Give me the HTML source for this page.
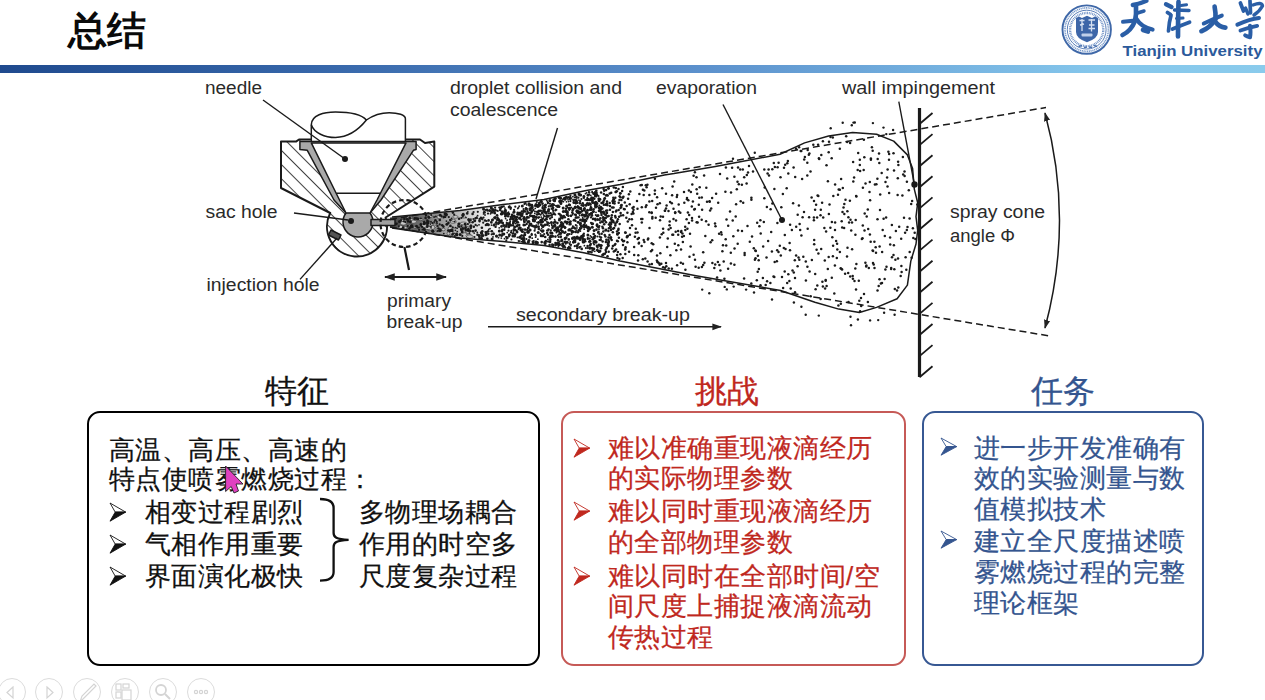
<!DOCTYPE html>
<html><head><meta charset="utf-8">
<style>
html,body{margin:0;padding:0;background:#fff;}
body{width:1265px;height:700px;position:relative;overflow:hidden;font-family:'Liberation Sans', sans-serif;}
.abs{position:absolute;}
.title{left:68px;top:6px;font-size:38.5px;font-weight:bold;color:#0a0a0a;line-height:50px;}
.bar{left:0;top:65px;width:1265px;height:7.5px;background:linear-gradient(90deg,#1f4a8e 0%,#3565a8 24%,#5b90cc 55%,#85c7ec 87%,#8acbec 100%);}
.diag{position:absolute;left:0;top:0;}
.head{font-size:32px;line-height:36px;-webkit-text-stroke:0.3px currentColor;}
.box{position:absolute;top:411px;height:255px;box-sizing:border-box;border-radius:13px;}
.txt{position:absolute;font-size:26px;line-height:30px;white-space:nowrap;-webkit-text-stroke:0.25px currentColor;letter-spacing:0.45px;}
.tool{position:absolute;top:678px;width:28px;height:28px;border:1.3px solid #dcdcdc;border-radius:50%;box-sizing:border-box;}
</style></head><body>
<div class="abs title">总结</div><div class="abs bar"></div><svg class="abs" style="left:1060px;top:3px" width="54" height="54" viewBox="0 0 54 54">
<circle cx="26.7" cy="26.6" r="24.2" fill="none" stroke="#3f68a8" stroke-width="1.9"/>
<circle cx="26.7" cy="26.6" r="21.7" fill="none" stroke="#7a9bcb" stroke-width="1.7" stroke-dasharray="1.1 0.7"/>
<circle cx="26.7" cy="26.6" r="19.4" fill="none" stroke="#4a72b0" stroke-width="0.9"/>
<circle cx="26.7" cy="26.6" r="16.6" fill="none" stroke="#6f91c6" stroke-width="2.4" stroke-dasharray="0.9 0.8"/>
<path d="M16,15 L19,13.5 L22,15 L27,12.8 L32,15 L35,13.5 L38,15 L38,29 Q38,35.5 27,39.2 Q16,35.5 16,29 Z" fill="#3d66a8"/>
<path d="M19.5,17.5 L24.5,17.5 M22,16 L22,28 M20,22 L24,21 M28.5,17 L35,17 M31.5,16 L31.5,28.5 M29,22 L34.5,22 M28.5,25.5 L35,25.5" stroke="#d5e0f0" stroke-width="1.3"/>
<rect x="21.5" y="30.5" width="11" height="3" rx="1" fill="#c0d0ea"/>
<path d="M18.5,43.5 L22,42.5 M24,44.5 L27,44 M29,44 L32,44.5 M34,42.5 L37,43.5" stroke="#4a72b0" stroke-width="1.4"/>
</svg><svg class="abs" style="left:1115px;top:0" width="150" height="42" viewBox="1115 0 150 42" fill="none" stroke="#2a5ea6" stroke-linecap="round" stroke-linejoin="round">
<path d="M1132.8,5 Q1140,3.8 1146.4,0.8" stroke-width="4.34"/>
<path d="M1137.5,13 L1144,11" stroke-width="3.41"/>
<path d="M1123,21.8 Q1128,21.5 1133,20.8" stroke-width="4.03"/>
<path d="M1136,5.5 Q1136.5,14 1135,21 Q1131,31 1122.5,35" stroke-width="4.65"/>
<path d="M1136.5,19 Q1141,27 1152.5,29.5" stroke-width="4.34"/>
<path d="M1143,30 L1148,31.5" stroke-width="4.65"/>
<path d="M1166,4.3 L1171.5,7" stroke-width="4.34"/>
<path d="M1167.5,12.5 L1170.5,14.5" stroke-width="3.88"/>
<path d="M1168.5,31 Q1169,22 1171,15.5" stroke-width="3.72"/>
<path d="M1178.5,2 Q1178,20 1178,36.5" stroke-width="4.65"/>
<path d="M1174.5,10 L1189,10.5" stroke-width="3.41"/>
<path d="M1181,5.5 L1186.5,4.8" stroke-width="3.10"/>
<path d="M1176.5,18.5 L1183,18" stroke-width="3.10"/>
<path d="M1172.5,29 Q1182,25 1189.5,22.2" stroke-width="3.88"/>
<path d="M1214.6,6.6 Q1216,14 1215.5,19 Q1210,28 1201.4,31.2" stroke-width="4.65"/>
<path d="M1203.8,23.5 Q1213,19 1221.8,15.6" stroke-width="4.03"/>
<path d="M1215.2,21.6 Q1219,27 1225.4,27.6" stroke-width="4.65"/>
<path d="M1240.4,3 L1243.5,11" stroke-width="3.72"/>
<path d="M1245.5,8 L1248,14" stroke-width="3.41"/>
<path d="M1250,1 L1250.5,13" stroke-width="3.72"/>
<path d="M1253,5 Q1262,1.5 1262.5,6 Q1259,12 1254,15" stroke-width="3.41"/>
<path d="M1237.4,24.6 Q1250,19 1259,18" stroke-width="4.03"/>
<path d="M1240.4,30.6 Q1250,27 1257.2,25.8" stroke-width="3.72"/>
<path d="M1250,25.8 Q1251,33 1250,37.2 Q1247,36.5 1245.2,35.4" stroke-width="4.03"/>
</svg><svg class="abs" style="left:1120px;top:40px" width="145" height="22"><text x="2.5" y="15.8" font-family="Liberation Sans, sans-serif" font-weight="bold" font-size="15.5" fill="#2b5a9b" textLength="140" lengthAdjust="spacingAndGlyphs">Tianjin University</text></svg>
<svg class="diag" width="1265" height="400" viewBox="0 0 1265 400">
<defs>
<pattern id="hatch" patternUnits="userSpaceOnUse" width="10" height="10" patternTransform="translate(3,0) rotate(-45)">
<rect width="10" height="10" fill="#fff"/>
<line x1="0" y1="0" x2="0" y2="10" stroke="#222" stroke-width="1.7"/>
</pattern>
<linearGradient id="jet" x1="392" y1="0" x2="600" y2="0" gradientUnits="userSpaceOnUse">
<stop offset="0" stop-color="#4a4a4a"/><stop offset="0.15" stop-color="#707070"/><stop offset="0.35" stop-color="#a0a0a0" stop-opacity="0.6"/><stop offset="0.6" stop-color="#fff" stop-opacity="0"/>
</linearGradient>
<marker id="ah" viewBox="0 0 10 10" refX="9" refY="5" markerWidth="6" markerHeight="6" orient="auto-start-reverse">
<path d="M0,1.5 L10,5 L0,8.5 z" fill="#222"/>
</marker>
</defs>
<g fill="#2a2a2a" font-family="Liberation Sans, sans-serif" font-size="17.5" transform="translate(0,0.8)">
<text x="205" y="93" textLength="57" lengthAdjust="spacingAndGlyphs">needle</text>
<text x="450" y="93" textLength="172" lengthAdjust="spacingAndGlyphs">droplet collision and</text>
<text x="450" y="115" textLength="108" lengthAdjust="spacingAndGlyphs">coalescence</text>
<text x="656" y="93" textLength="101" lengthAdjust="spacingAndGlyphs">evaporation</text>
<text x="842" y="93" textLength="153" lengthAdjust="spacingAndGlyphs">wall impingement</text>
<text x="205.5" y="217" textLength="72" lengthAdjust="spacingAndGlyphs">sac hole</text>
<text x="206.5" y="290" textLength="113" lengthAdjust="spacingAndGlyphs">injection hole</text>
<text x="387" y="306" textLength="64" lengthAdjust="spacingAndGlyphs">primary</text>
<text x="386.5" y="327" textLength="76" lengthAdjust="spacingAndGlyphs">break-up</text>
<text x="516" y="320" textLength="174" lengthAdjust="spacingAndGlyphs">secondary break-up</text>
<text x="950" y="217" textLength="95" lengthAdjust="spacingAndGlyphs">spray cone</text>
<text x="950" y="241" textLength="65" lengthAdjust="spacingAndGlyphs">angle &#934;</text>
</g>
<g stroke="#1a1a1a" fill="none" stroke-width="1.5" stroke-linejoin="round">
<!-- jet fill -->
<path d="M390,217.5 L460,210.5 L503,204.5 L544,199.5 L585,190.8 L600,188.3 L600,256.8 L585,253 L544,245.5 L503,241.5 L460,237.9 L390,227.5 Z" fill="url(#jet)" stroke="none"/>
<ellipse cx="430.6" cy="224.4" rx="3.3" ry="1.5" fill="#c8c8c8" stroke="#333" stroke-width="0.6"/><ellipse cx="434.6" cy="225.1" rx="1.9" ry="1.5" fill="#c8c8c8" stroke="#333" stroke-width="0.6"/><ellipse cx="443.4" cy="229.5" rx="1.7" ry="1.3" fill="#c8c8c8" stroke="#333" stroke-width="0.6"/><ellipse cx="404.5" cy="225.9" rx="2.9" ry="1.0" fill="#c8c8c8" stroke="#333" stroke-width="0.6"/><ellipse cx="468.7" cy="235.7" rx="2.8" ry="1.6" fill="#c8c8c8" stroke="#333" stroke-width="0.6"/><ellipse cx="409.3" cy="217.5" rx="2.6" ry="1.1" fill="#c8c8c8" stroke="#333" stroke-width="0.6"/><ellipse cx="411.7" cy="220.0" rx="1.6" ry="1.5" fill="#c8c8c8" stroke="#333" stroke-width="0.6"/><ellipse cx="429.7" cy="229.0" rx="2.5" ry="1.6" fill="#c8c8c8" stroke="#333" stroke-width="0.6"/><ellipse cx="434.0" cy="226.3" rx="2.4" ry="1.3" fill="#c8c8c8" stroke="#333" stroke-width="0.6"/><ellipse cx="469.8" cy="236.6" rx="3.2" ry="1.7" fill="#c8c8c8" stroke="#333" stroke-width="0.6"/><ellipse cx="420.7" cy="219.5" rx="2.1" ry="1.1" fill="#c8c8c8" stroke="#333" stroke-width="0.6"/><ellipse cx="453.2" cy="221.9" rx="3.2" ry="1.4" fill="#c8c8c8" stroke="#333" stroke-width="0.6"/><ellipse cx="467.0" cy="232.7" rx="1.5" ry="1.2" fill="#c8c8c8" stroke="#333" stroke-width="0.6"/><ellipse cx="463.5" cy="223.4" rx="3.5" ry="1.4" fill="#c8c8c8" stroke="#333" stroke-width="0.6"/><ellipse cx="403.3" cy="224.0" rx="3.1" ry="1.3" fill="#c8c8c8" stroke="#333" stroke-width="0.6"/><ellipse cx="404.3" cy="221.1" rx="3.4" ry="1.8" fill="#c8c8c8" stroke="#333" stroke-width="0.6"/><ellipse cx="406.5" cy="220.2" rx="1.7" ry="1.1" fill="#c8c8c8" stroke="#333" stroke-width="0.6"/><ellipse cx="455.4" cy="216.9" rx="2.6" ry="1.4" fill="#c8c8c8" stroke="#333" stroke-width="0.6"/><ellipse cx="411.7" cy="225.7" rx="1.8" ry="1.6" fill="#c8c8c8" stroke="#333" stroke-width="0.6"/><ellipse cx="406.4" cy="222.0" rx="1.9" ry="1.3" fill="#c8c8c8" stroke="#333" stroke-width="0.6"/><ellipse cx="467.9" cy="231.6" rx="2.1" ry="1.9" fill="#c8c8c8" stroke="#333" stroke-width="0.6"/><ellipse cx="413.2" cy="221.7" rx="3.2" ry="1.6" fill="#c8c8c8" stroke="#333" stroke-width="0.6"/><ellipse cx="405.2" cy="227.8" rx="1.9" ry="1.3" fill="#c8c8c8" stroke="#333" stroke-width="0.6"/><ellipse cx="453.6" cy="220.3" rx="2.1" ry="1.1" fill="#c8c8c8" stroke="#333" stroke-width="0.6"/><ellipse cx="404.5" cy="223.6" rx="2.0" ry="1.6" fill="#c8c8c8" stroke="#333" stroke-width="0.6"/><ellipse cx="424.8" cy="222.6" rx="3.4" ry="1.5" fill="#c8c8c8" stroke="#333" stroke-width="0.6"/><ellipse cx="439.4" cy="230.4" rx="1.9" ry="1.2" fill="#c8c8c8" stroke="#333" stroke-width="0.6"/><ellipse cx="463.4" cy="231.8" rx="2.0" ry="1.2" fill="#c8c8c8" stroke="#333" stroke-width="0.6"/><ellipse cx="451.2" cy="233.4" rx="1.9" ry="2.0" fill="#c8c8c8" stroke="#333" stroke-width="0.6"/><ellipse cx="461.5" cy="226.6" rx="2.3" ry="1.1" fill="#c8c8c8" stroke="#333" stroke-width="0.6"/><ellipse cx="400.8" cy="226.9" rx="2.0" ry="1.7" fill="#c8c8c8" stroke="#333" stroke-width="0.6"/><ellipse cx="416.5" cy="227.3" rx="2.7" ry="1.3" fill="#c8c8c8" stroke="#333" stroke-width="0.6"/><ellipse cx="410.6" cy="225.5" rx="1.6" ry="1.2" fill="#c8c8c8" stroke="#333" stroke-width="0.6"/><ellipse cx="438.3" cy="230.1" rx="2.7" ry="1.3" fill="#c8c8c8" stroke="#333" stroke-width="0.6"/><ellipse cx="464.0" cy="216.9" rx="1.5" ry="1.3" fill="#c8c8c8" stroke="#333" stroke-width="0.6"/><ellipse cx="430.1" cy="216.3" rx="1.9" ry="1.4" fill="#c8c8c8" stroke="#333" stroke-width="0.6"/><ellipse cx="439.2" cy="216.9" rx="2.2" ry="1.9" fill="#c8c8c8" stroke="#333" stroke-width="0.6"/><ellipse cx="468.6" cy="227.9" rx="2.9" ry="1.6" fill="#c8c8c8" stroke="#333" stroke-width="0.6"/><ellipse cx="408.1" cy="217.8" rx="1.5" ry="1.9" fill="#c8c8c8" stroke="#333" stroke-width="0.6"/><ellipse cx="448.5" cy="233.5" rx="1.5" ry="1.6" fill="#c8c8c8" stroke="#333" stroke-width="0.6"/><ellipse cx="432.7" cy="227.4" rx="2.1" ry="2.0" fill="#c8c8c8" stroke="#333" stroke-width="0.6"/><ellipse cx="403.4" cy="223.2" rx="3.0" ry="1.9" fill="#c8c8c8" stroke="#333" stroke-width="0.6"/><ellipse cx="451.1" cy="228.3" rx="3.1" ry="1.9" fill="#c8c8c8" stroke="#333" stroke-width="0.6"/><ellipse cx="423.3" cy="226.0" rx="3.3" ry="1.9" fill="#c8c8c8" stroke="#333" stroke-width="0.6"/><ellipse cx="428.0" cy="228.0" rx="3.2" ry="1.6" fill="#c8c8c8" stroke="#333" stroke-width="0.6"/>
<!-- nozzle body hatched -->
<path d="M281,141.6 L296,141.6 L299,139.5 L420,139.5 L425,143 L434.3,141.6 L434.3,186.6 L385.6,217.5 A30,30 0 1 1 330.2,213 L281,188 Z" fill="url(#hatch)" stroke-width="2"/>
<!-- needle cap -->
<path d="M311.3,142.9 L311.3,124.8 C311.3,115 324,112 335.5,112 C350,112 362,115 366.4,120 C375,114 383,112.7 389.2,112.7 C398,112.7 405.4,115 405.4,118.7 L405.4,142.9 Z" fill="#fff"/>
<path d="M311.3,124.8 C314,133 325,137.5 335.5,137.5 C350,137 360,128 366.4,120"/>
<!-- gray fuel channel + sac -->
<path d="M299.9,141.6 L416.1,141.6 L416.1,149.6 L413.4,150.3 L381,200 L370,213 A15,15 0 1 1 346,213 L334,200 L307.3,150.3 L299.9,149.6 Z" fill="#a9a9a9"/>
<!-- needle cone -->
<path d="M311.3,142.9 L406,142.9 L377,200 L370,213 L346,213 L339.5,200 Z" fill="#fff"/>
<line x1="336.3" y1="193.3" x2="380.4" y2="193.3"/>
<!-- injection holes -->
<path d="M371,219.5 L395,219.5 L395,225.5 L371,225.5 Z" fill="#a0a0a0"/>
<path d="M331,230 L341,235 L338.5,240 L328.5,235 Z" fill="#555"/>
<!-- dashed circle -->
<circle cx="404" cy="223.5" r="23.5" stroke-dasharray="4.5 3" stroke-width="2.2"/>
<line x1="404.4" y1="247" x2="409" y2="270" stroke-width="2.2"/>
<line x1="385" y1="277" x2="446" y2="277" stroke-width="1.8" marker-start="url(#ah)" marker-end="url(#ah)"/>
<line x1="488" y1="326.8" x2="721" y2="326.8" stroke-width="1.6" marker-end="url(#ah)"/>
<!-- pointers -->
<line x1="263" y1="100" x2="345" y2="159" stroke-width="1.4"/>
<line x1="294" y1="213" x2="348" y2="220" stroke-width="1.4"/>
<line x1="300" y1="279.4" x2="337" y2="238" stroke-width="1.4"/>
<line x1="557.5" y1="128" x2="536" y2="199" stroke-width="1.4"/>
<line x1="723" y1="104.5" x2="782" y2="220" stroke-width="1.4"/>
<line x1="898.8" y1="101.7" x2="914.3" y2="184" stroke-width="1.4"/>
<!-- dashed cone -->
<line x1="390" y1="219.5" x2="1046" y2="107.5" stroke-dasharray="7 4" stroke-width="1.5"/>
<line x1="390" y1="227" x2="1050" y2="336" stroke-dasharray="7 4" stroke-width="1.5"/>
<!-- spray outline -->
<path d="M392,217 L460,210.5 L503,204.5 L544,199.5 L585,190.8 L620,184.5 L664.4,174.9 L674,173.5 L715.4,166.4 L780,154.3 L804.6,142.9 L828.6,136 L852.6,132.6 L876.6,134.3 L893.7,141.1 L907.4,154.9 L912.6,168.6 L914.3,189.1 L917.7,202.8 L916,216.6 L917.7,230.3 L916,244 L910.8,261.1 L907.4,285.1 L897.1,298.8 L876.6,307.4 L859.4,312.5 L838.8,309.1 L814.9,302.3 L780.6,290.5 L696,275.7 L620,261 L585,253 L544,245.5 L503,241.5 L460,237.9 L392,228" stroke-width="1.5"/>
<!-- wall -->
<line x1="919.5" y1="108" x2="919.5" y2="377" stroke-width="3.2"/>
<path d="M919.5,124.0 L932.5,113.0 M919.5,145.1 L932.5,134.1 M919.5,166.2 L932.5,155.2 M919.5,187.3 L932.5,176.3 M919.5,208.4 L932.5,197.4 M919.5,229.5 L932.5,218.5 M919.5,250.6 L932.5,239.6 M919.5,271.7 L932.5,260.7 M919.5,292.8 L932.5,281.8 M919.5,313.9 L932.5,302.9 M919.5,335.0 L932.5,324.0 M919.5,356.1 L932.5,345.1 M919.5,377.2 L932.5,366.2 " stroke-width="1.8"/>
<!-- cone angle arc -->
<path d="M1045,113 Q1074,220 1045,328" stroke-width="1.5" marker-start="url(#ah)" marker-end="url(#ah)"/>
</g>
<g fill="#1a1a1a">
<circle cx="345" cy="159" r="3"/>
<circle cx="351" cy="221" r="3"/>
<circle cx="782" cy="220" r="3"/>
<circle cx="914.5" cy="184.5" r="3.2"/>
<circle cx="396.8" cy="223.4" r="0.9"/><circle cx="396.2" cy="224.0" r="1.3"/><circle cx="399.5" cy="221.5" r="1.5"/><circle cx="398.9" cy="226.2" r="0.9"/><circle cx="401.0" cy="220.7" r="0.9"/><circle cx="401.0" cy="219.8" r="0.9"/><circle cx="403.2" cy="227.5" r="1.3"/><circle cx="403.8" cy="221.3" r="1.1"/><circle cx="404.4" cy="218.9" r="1.3"/><circle cx="405.3" cy="222.1" r="1.1"/><circle cx="407.3" cy="219.2" r="1.5"/><circle cx="407.6" cy="226.0" r="1.1"/><circle cx="407.8" cy="221.5" r="1.3"/><circle cx="408.3" cy="221.0" r="0.9"/><circle cx="409.4" cy="228.6" r="1.3"/><circle cx="409.6" cy="218.0" r="1.5"/><circle cx="410.4" cy="221.8" r="1.5"/><circle cx="411.3" cy="225.8" r="1.5"/><circle cx="410.6" cy="227.3" r="1.3"/><circle cx="412.1" cy="225.9" r="1.3"/><circle cx="412.6" cy="227.0" r="0.9"/><circle cx="414.8" cy="218.7" r="1.3"/><circle cx="414.5" cy="218.0" r="0.9"/><circle cx="416.0" cy="217.6" r="0.9"/><circle cx="417.3" cy="227.6" r="0.9"/><circle cx="417.4" cy="218.7" r="1.5"/><circle cx="416.5" cy="226.3" r="1.5"/><circle cx="418.1" cy="219.0" r="1.3"/><circle cx="419.1" cy="229.9" r="1.1"/><circle cx="418.8" cy="227.6" r="1.1"/><circle cx="421.9" cy="226.7" r="1.1"/><circle cx="420.9" cy="218.5" r="0.9"/><circle cx="420.8" cy="224.3" r="1.3"/><circle cx="420.9" cy="225.6" r="1.1"/><circle cx="423.7" cy="228.1" r="0.9"/><circle cx="422.4" cy="229.7" r="0.9"/><circle cx="424.0" cy="223.9" r="1.3"/><circle cx="422.5" cy="226.8" r="0.9"/><circle cx="424.2" cy="222.3" r="1.5"/><circle cx="425.5" cy="223.1" r="0.9"/><circle cx="424.4" cy="229.4" r="1.5"/><circle cx="425.6" cy="217.9" r="1.3"/><circle cx="427.8" cy="222.9" r="1.5"/><circle cx="427.9" cy="223.2" r="0.9"/><circle cx="427.5" cy="222.3" r="1.3"/><circle cx="429.1" cy="217.5" r="1.3"/><circle cx="428.6" cy="221.3" r="1.1"/><circle cx="428.6" cy="217.1" r="1.3"/><circle cx="430.4" cy="224.1" r="0.9"/><circle cx="431.2" cy="215.0" r="0.9"/><circle cx="431.0" cy="221.7" r="0.9"/><circle cx="431.0" cy="226.9" r="0.9"/><circle cx="432.9" cy="231.3" r="1.5"/><circle cx="432.5" cy="223.0" r="1.1"/><circle cx="432.7" cy="230.9" r="1.5"/><circle cx="434.2" cy="222.0" r="0.9"/><circle cx="435.9" cy="216.5" r="0.9"/><circle cx="434.1" cy="217.0" r="0.9"/><circle cx="435.4" cy="220.2" r="1.3"/><circle cx="437.0" cy="223.6" r="0.9"/><circle cx="437.7" cy="226.0" r="1.1"/><circle cx="437.4" cy="231.0" r="0.9"/><circle cx="436.8" cy="221.9" r="1.1"/><circle cx="439.7" cy="224.4" r="1.1"/><circle cx="439.1" cy="230.7" r="1.1"/><circle cx="438.5" cy="228.5" r="1.3"/><circle cx="439.8" cy="220.0" r="1.3"/><circle cx="440.4" cy="229.4" r="1.1"/><circle cx="441.8" cy="216.3" r="1.1"/><circle cx="440.3" cy="215.3" r="1.5"/><circle cx="440.2" cy="230.5" r="1.5"/><circle cx="443.4" cy="217.5" r="0.9"/><circle cx="442.2" cy="225.2" r="1.3"/><circle cx="443.8" cy="233.6" r="0.9"/><circle cx="443.4" cy="226.6" r="1.3"/><circle cx="445.4" cy="217.2" r="0.9"/><circle cx="445.0" cy="213.7" r="1.5"/><circle cx="444.3" cy="217.1" r="1.1"/><circle cx="444.3" cy="216.5" r="1.3"/><circle cx="446.2" cy="214.3" r="1.5"/><circle cx="446.2" cy="215.1" r="1.5"/><circle cx="446.9" cy="224.2" r="1.5"/><circle cx="446.4" cy="221.1" r="0.9"/><circle cx="448.4" cy="222.9" r="1.3"/><circle cx="448.8" cy="217.1" r="1.1"/><circle cx="448.2" cy="230.5" r="1.3"/><circle cx="449.8" cy="230.7" r="1.5"/><circle cx="450.4" cy="225.9" r="1.3"/><circle cx="451.6" cy="218.5" r="0.9"/><circle cx="451.5" cy="230.3" r="1.5"/><circle cx="450.3" cy="220.1" r="1.3"/><circle cx="451.5" cy="230.0" r="1.5"/><circle cx="452.4" cy="231.0" r="1.3"/><circle cx="452.9" cy="212.6" r="1.3"/><circle cx="454.0" cy="233.4" r="0.9"/><circle cx="452.5" cy="234.4" r="1.3"/><circle cx="452.7" cy="227.7" r="1.1"/><circle cx="454.8" cy="236.0" r="1.1"/><circle cx="455.4" cy="230.3" r="0.9"/><circle cx="454.2" cy="214.7" r="1.1"/><circle cx="454.5" cy="221.7" r="0.9"/><circle cx="455.5" cy="227.6" r="0.9"/><circle cx="456.5" cy="234.0" r="1.5"/><circle cx="457.9" cy="225.8" r="0.9"/><circle cx="457.3" cy="231.6" r="0.9"/><circle cx="457.1" cy="228.2" r="0.9"/><circle cx="456.8" cy="234.8" r="1.5"/><circle cx="458.3" cy="224.1" r="0.9"/><circle cx="458.9" cy="224.0" r="1.3"/><circle cx="459.1" cy="226.6" r="1.3"/><circle cx="459.1" cy="223.8" r="1.3"/><circle cx="459.1" cy="218.8" r="1.3"/><circle cx="461.5" cy="226.3" r="1.1"/><circle cx="460.8" cy="228.8" r="0.9"/><circle cx="461.8" cy="230.4" r="0.9"/><circle cx="461.2" cy="229.8" r="1.3"/><circle cx="460.1" cy="234.4" r="1.5"/><circle cx="461.4" cy="217.9" r="1.1"/><circle cx="462.2" cy="232.1" r="1.5"/><circle cx="462.3" cy="235.9" r="1.1"/><circle cx="463.2" cy="214.2" r="1.5"/><circle cx="462.9" cy="216.5" r="0.9"/><circle cx="462.7" cy="215.3" r="1.3"/><circle cx="462.9" cy="228.4" r="1.5"/><circle cx="465.3" cy="228.8" r="1.3"/><circle cx="465.6" cy="224.9" r="1.1"/><circle cx="465.9" cy="230.2" r="1.1"/><circle cx="465.0" cy="224.1" r="1.3"/><circle cx="465.6" cy="227.3" r="1.3"/><circle cx="467.2" cy="230.0" r="1.1"/><circle cx="467.3" cy="230.7" r="1.1"/><circle cx="467.9" cy="224.1" r="1.1"/><circle cx="467.8" cy="211.8" r="0.9"/><circle cx="466.0" cy="217.6" r="0.9"/><circle cx="467.2" cy="213.4" r="1.3"/><circle cx="468.2" cy="228.7" r="1.1"/><circle cx="469.3" cy="220.5" r="1.5"/><circle cx="468.7" cy="219.6" r="1.5"/><circle cx="469.5" cy="233.1" r="0.9"/><circle cx="469.6" cy="222.5" r="1.1"/><circle cx="468.9" cy="230.6" r="1.5"/><circle cx="470.7" cy="228.1" r="1.3"/><circle cx="470.6" cy="231.0" r="1.1"/><circle cx="470.9" cy="220.3" r="0.9"/><circle cx="470.9" cy="219.1" r="0.9"/><circle cx="470.9" cy="225.8" r="1.5"/><circle cx="473.6" cy="212.0" r="1.1"/><circle cx="473.8" cy="226.7" r="1.3"/><circle cx="473.0" cy="231.2" r="1.3"/><circle cx="472.6" cy="213.9" r="1.3"/><circle cx="473.3" cy="219.0" r="0.9"/><circle cx="472.6" cy="222.2" r="1.3"/><circle cx="475.6" cy="218.2" r="1.3"/><circle cx="474.4" cy="237.0" r="1.1"/><circle cx="474.2" cy="233.1" r="0.9"/><circle cx="474.7" cy="220.8" r="1.5"/><circle cx="475.6" cy="230.6" r="1.3"/><circle cx="475.6" cy="224.9" r="1.1"/><circle cx="477.5" cy="234.7" r="1.3"/><circle cx="477.6" cy="215.7" r="0.9"/><circle cx="477.1" cy="225.7" r="0.9"/><circle cx="477.3" cy="232.5" r="0.9"/><circle cx="477.2" cy="218.1" r="0.9"/><circle cx="476.7" cy="217.2" r="0.9"/><circle cx="477.8" cy="211.8" r="1.1"/><circle cx="479.6" cy="221.4" r="1.1"/><circle cx="479.0" cy="235.6" r="1.3"/><circle cx="479.5" cy="220.6" r="1.3"/><circle cx="479.6" cy="218.8" r="1.1"/><circle cx="479.0" cy="224.8" r="0.9"/><circle cx="479.4" cy="235.8" r="1.5"/><circle cx="479.5" cy="237.9" r="1.3"/><circle cx="481.6" cy="233.5" r="1.5"/><circle cx="481.9" cy="227.8" r="1.3"/><circle cx="481.4" cy="232.6" r="1.5"/><circle cx="481.8" cy="236.0" r="1.1"/><circle cx="481.5" cy="238.2" r="1.5"/><circle cx="481.4" cy="218.3" r="1.5"/><circle cx="480.8" cy="217.4" r="0.9"/><circle cx="483.5" cy="217.6" r="1.1"/><circle cx="483.6" cy="213.9" r="0.9"/><circle cx="483.5" cy="209.0" r="1.5"/><circle cx="483.8" cy="209.6" r="0.9"/><circle cx="482.4" cy="219.3" r="1.1"/><circle cx="483.2" cy="222.7" r="1.1"/><circle cx="482.9" cy="235.4" r="1.5"/><circle cx="482.3" cy="231.3" r="1.3"/><circle cx="485.9" cy="225.0" r="1.3"/><circle cx="485.0" cy="220.5" r="1.3"/><circle cx="485.3" cy="231.8" r="0.9"/><circle cx="485.0" cy="215.0" r="0.9"/><circle cx="484.4" cy="212.3" r="1.5"/><circle cx="486.0" cy="232.5" r="1.3"/><circle cx="485.6" cy="210.0" r="1.1"/><circle cx="485.8" cy="234.9" r="1.3"/><circle cx="486.5" cy="221.0" r="1.1"/><circle cx="486.8" cy="231.9" r="1.1"/><circle cx="486.5" cy="234.9" r="1.1"/><circle cx="487.3" cy="238.7" r="1.3"/><circle cx="487.0" cy="209.6" r="1.1"/><circle cx="486.0" cy="233.4" r="1.1"/><circle cx="487.6" cy="210.5" r="1.3"/><circle cx="487.2" cy="224.3" r="1.5"/><circle cx="488.2" cy="231.2" r="1.3"/><circle cx="488.0" cy="213.6" r="1.1"/><circle cx="489.8" cy="210.5" r="1.5"/><circle cx="488.4" cy="224.8" r="1.5"/><circle cx="488.3" cy="233.8" r="1.3"/><circle cx="488.6" cy="220.4" r="1.3"/><circle cx="490.0" cy="228.7" r="0.9"/><circle cx="488.7" cy="229.3" r="0.9"/><circle cx="491.4" cy="231.2" r="0.9"/><circle cx="491.3" cy="207.8" r="1.5"/><circle cx="491.4" cy="222.5" r="1.3"/><circle cx="491.1" cy="222.0" r="0.9"/><circle cx="491.7" cy="234.3" r="1.1"/><circle cx="491.8" cy="212.2" r="1.5"/><circle cx="491.9" cy="231.3" r="1.3"/><circle cx="491.5" cy="225.1" r="0.9"/><circle cx="490.5" cy="213.8" r="0.9"/><circle cx="493.9" cy="225.3" r="1.3"/><circle cx="492.9" cy="219.5" r="0.9"/><circle cx="492.3" cy="210.2" r="1.1"/><circle cx="492.4" cy="220.1" r="1.5"/><circle cx="493.2" cy="210.0" r="1.1"/><circle cx="492.1" cy="239.1" r="1.5"/><circle cx="492.8" cy="209.4" r="1.5"/><circle cx="493.9" cy="211.6" r="1.1"/><circle cx="493.5" cy="233.7" r="1.5"/><circle cx="493.0" cy="236.9" r="0.9"/><circle cx="495.2" cy="217.2" r="1.1"/><circle cx="495.3" cy="226.8" r="0.9"/><circle cx="494.5" cy="213.0" r="1.3"/><circle cx="495.3" cy="210.3" r="1.5"/><circle cx="494.4" cy="217.7" r="1.3"/><circle cx="495.7" cy="226.9" r="1.1"/><circle cx="494.5" cy="224.5" r="1.3"/><circle cx="495.1" cy="218.4" r="1.1"/><circle cx="495.1" cy="213.3" r="1.1"/><circle cx="495.1" cy="207.7" r="1.1"/><circle cx="496.3" cy="222.4" r="1.5"/><circle cx="497.4" cy="217.5" r="1.3"/><circle cx="496.5" cy="235.9" r="1.5"/><circle cx="497.9" cy="211.0" r="0.9"/><circle cx="497.1" cy="215.3" r="1.3"/><circle cx="497.2" cy="210.6" r="0.9"/><circle cx="496.6" cy="236.4" r="1.1"/><circle cx="497.5" cy="218.6" r="1.1"/><circle cx="496.4" cy="224.8" r="0.9"/><circle cx="496.9" cy="220.0" r="1.1"/><circle cx="499.3" cy="231.1" r="1.5"/><circle cx="499.2" cy="227.8" r="0.9"/><circle cx="498.3" cy="220.1" r="0.9"/><circle cx="498.3" cy="219.3" r="1.5"/><circle cx="498.3" cy="223.8" r="1.3"/><circle cx="498.5" cy="237.7" r="0.9"/><circle cx="499.3" cy="207.5" r="1.1"/><circle cx="498.8" cy="223.0" r="0.9"/><circle cx="498.9" cy="220.1" r="1.5"/><circle cx="499.5" cy="222.6" r="1.5"/><circle cx="499.7" cy="235.1" r="1.5"/><circle cx="500.2" cy="209.9" r="1.3"/><circle cx="501.1" cy="220.7" r="0.9"/><circle cx="500.6" cy="207.8" r="1.5"/><circle cx="501.5" cy="226.4" r="1.3"/><circle cx="501.8" cy="235.9" r="1.1"/><circle cx="500.2" cy="221.2" r="1.5"/><circle cx="501.9" cy="222.2" r="0.9"/><circle cx="501.1" cy="214.1" r="1.3"/><circle cx="501.3" cy="238.1" r="0.9"/><circle cx="502.0" cy="230.9" r="1.3"/><circle cx="501.7" cy="220.4" r="1.1"/><circle cx="503.5" cy="225.3" r="0.9"/><circle cx="502.2" cy="233.1" r="0.9"/><circle cx="503.8" cy="225.6" r="1.5"/><circle cx="502.0" cy="214.1" r="1.3"/><circle cx="502.0" cy="211.7" r="1.5"/><circle cx="503.8" cy="233.9" r="1.5"/><circle cx="502.3" cy="229.7" r="1.1"/><circle cx="502.1" cy="206.8" r="1.3"/><circle cx="502.6" cy="222.9" r="1.5"/><circle cx="503.8" cy="212.7" r="0.9"/><circle cx="502.4" cy="234.7" r="1.3"/><circle cx="503.8" cy="206.3" r="1.1"/><circle cx="504.5" cy="238.7" r="0.9"/><circle cx="505.3" cy="216.2" r="1.3"/><circle cx="505.9" cy="215.1" r="1.5"/><circle cx="505.4" cy="210.2" r="1.5"/><circle cx="504.8" cy="211.4" r="1.3"/><circle cx="504.2" cy="229.7" r="1.3"/><circle cx="504.4" cy="213.7" r="1.3"/><circle cx="505.6" cy="218.5" r="0.9"/><circle cx="505.2" cy="213.5" r="1.3"/><circle cx="505.8" cy="211.8" r="1.1"/><circle cx="504.6" cy="227.9" r="0.9"/><circle cx="504.9" cy="208.1" r="0.9"/><circle cx="506.1" cy="226.5" r="1.3"/><circle cx="507.1" cy="220.2" r="0.9"/><circle cx="506.3" cy="240.3" r="1.1"/><circle cx="506.5" cy="215.1" r="0.9"/><circle cx="506.4" cy="237.0" r="0.9"/><circle cx="507.2" cy="237.7" r="1.5"/><circle cx="506.0" cy="236.8" r="0.9"/><circle cx="506.4" cy="224.9" r="1.3"/><circle cx="506.6" cy="222.4" r="0.9"/><circle cx="507.0" cy="223.2" r="1.1"/><circle cx="507.2" cy="232.6" r="0.9"/><circle cx="507.2" cy="213.6" r="1.5"/><circle cx="508.5" cy="230.7" r="1.1"/><circle cx="508.5" cy="224.5" r="1.5"/><circle cx="508.5" cy="212.2" r="0.9"/><circle cx="509.1" cy="236.3" r="1.1"/><circle cx="508.7" cy="226.8" r="1.5"/><circle cx="509.6" cy="223.1" r="1.3"/><circle cx="509.7" cy="206.1" r="0.9"/><circle cx="509.8" cy="225.4" r="1.1"/><circle cx="509.2" cy="206.9" r="1.5"/><circle cx="508.1" cy="216.3" r="1.3"/><circle cx="509.5" cy="222.9" r="1.1"/><circle cx="508.8" cy="213.9" r="1.5"/><circle cx="509.4" cy="234.8" r="1.5"/><circle cx="510.8" cy="218.0" r="1.1"/><circle cx="511.4" cy="239.5" r="1.1"/><circle cx="511.0" cy="232.4" r="1.1"/><circle cx="510.3" cy="221.3" r="0.9"/><circle cx="510.0" cy="219.6" r="1.1"/><circle cx="510.2" cy="224.9" r="1.5"/><circle cx="510.8" cy="207.5" r="0.9"/><circle cx="511.4" cy="230.8" r="1.1"/><circle cx="510.6" cy="209.0" r="1.1"/><circle cx="510.8" cy="207.9" r="1.1"/><circle cx="510.7" cy="217.0" r="1.1"/><circle cx="510.1" cy="219.4" r="0.9"/><circle cx="511.5" cy="225.4" r="1.1"/><circle cx="510.9" cy="219.0" r="1.1"/><circle cx="513.6" cy="212.4" r="1.3"/><circle cx="512.5" cy="233.7" r="1.1"/><circle cx="513.0" cy="219.2" r="1.5"/><circle cx="513.5" cy="221.9" r="1.5"/><circle cx="514.0" cy="229.5" r="1.5"/><circle cx="512.4" cy="218.6" r="0.9"/><circle cx="512.1" cy="214.7" r="1.3"/><circle cx="513.2" cy="223.6" r="1.3"/><circle cx="513.0" cy="225.4" r="1.1"/><circle cx="512.5" cy="217.8" r="1.1"/><circle cx="513.5" cy="233.1" r="1.1"/><circle cx="513.5" cy="231.1" r="0.9"/><circle cx="512.0" cy="216.3" r="1.5"/><circle cx="512.9" cy="235.9" r="1.5"/><circle cx="515.5" cy="223.6" r="0.9"/><circle cx="514.6" cy="226.9" r="1.5"/><circle cx="514.1" cy="209.9" r="1.1"/><circle cx="514.1" cy="215.9" r="1.5"/><circle cx="515.0" cy="230.1" r="1.3"/><circle cx="514.6" cy="221.1" r="1.5"/><circle cx="514.3" cy="211.9" r="1.3"/><circle cx="515.1" cy="221.0" r="1.1"/><circle cx="514.8" cy="236.5" r="1.1"/><circle cx="514.2" cy="218.0" r="1.1"/><circle cx="514.3" cy="235.8" r="1.5"/><circle cx="515.1" cy="234.4" r="1.3"/><circle cx="515.3" cy="206.7" r="1.1"/><circle cx="515.1" cy="217.4" r="0.9"/><circle cx="517.7" cy="212.8" r="1.3"/><circle cx="516.2" cy="220.1" r="1.5"/><circle cx="517.0" cy="222.4" r="1.3"/><circle cx="516.6" cy="230.5" r="1.1"/><circle cx="516.3" cy="219.2" r="1.5"/><circle cx="517.5" cy="217.2" r="1.1"/><circle cx="517.0" cy="232.0" r="1.5"/><circle cx="517.6" cy="222.0" r="1.3"/><circle cx="517.4" cy="224.8" r="0.9"/><circle cx="517.8" cy="208.5" r="0.9"/><circle cx="517.8" cy="214.2" r="1.5"/><circle cx="517.0" cy="226.1" r="1.5"/><circle cx="517.4" cy="237.4" r="0.9"/><circle cx="516.0" cy="217.1" r="1.3"/><circle cx="518.5" cy="229.2" r="1.1"/><circle cx="519.3" cy="218.4" r="1.3"/><circle cx="519.9" cy="217.6" r="1.1"/><circle cx="519.5" cy="227.7" r="1.5"/><circle cx="519.2" cy="206.2" r="0.9"/><circle cx="519.7" cy="237.3" r="1.5"/><circle cx="519.9" cy="218.4" r="1.1"/><circle cx="519.4" cy="214.1" r="1.5"/><circle cx="518.7" cy="241.0" r="1.1"/><circle cx="519.2" cy="214.0" r="1.3"/><circle cx="519.4" cy="212.7" r="0.9"/><circle cx="519.9" cy="241.1" r="0.9"/><circle cx="518.5" cy="222.6" r="0.9"/><circle cx="519.2" cy="225.1" r="1.3"/><circle cx="518.5" cy="207.7" r="0.9"/><circle cx="521.4" cy="230.3" r="1.1"/><circle cx="521.9" cy="235.3" r="1.1"/><circle cx="520.7" cy="230.1" r="1.3"/><circle cx="520.7" cy="214.5" r="1.5"/><circle cx="520.5" cy="213.1" r="1.3"/><circle cx="521.4" cy="238.9" r="1.1"/><circle cx="521.8" cy="241.6" r="0.9"/><circle cx="521.8" cy="215.5" r="1.5"/><circle cx="521.0" cy="229.7" r="0.9"/><circle cx="520.3" cy="236.9" r="1.5"/><circle cx="520.1" cy="213.3" r="1.5"/><circle cx="520.5" cy="228.0" r="1.3"/><circle cx="521.4" cy="216.1" r="1.3"/><circle cx="521.7" cy="211.4" r="1.1"/><circle cx="521.1" cy="219.7" r="1.1"/><circle cx="521.2" cy="235.5" r="1.1"/><circle cx="522.8" cy="229.4" r="1.1"/><circle cx="523.3" cy="241.2" r="1.5"/><circle cx="523.2" cy="240.0" r="1.1"/><circle cx="522.5" cy="213.8" r="1.3"/><circle cx="523.3" cy="218.7" r="1.1"/><circle cx="522.1" cy="231.1" r="0.9"/><circle cx="523.7" cy="210.8" r="1.3"/><circle cx="523.5" cy="242.0" r="0.9"/><circle cx="522.8" cy="238.5" r="1.5"/><circle cx="522.3" cy="205.9" r="1.5"/><circle cx="523.6" cy="236.0" r="1.3"/><circle cx="522.4" cy="231.4" r="1.5"/><circle cx="523.5" cy="241.5" r="1.5"/><circle cx="523.3" cy="211.7" r="1.3"/><circle cx="523.6" cy="209.0" r="1.1"/><circle cx="523.7" cy="224.9" r="1.3"/><circle cx="523.8" cy="220.1" r="1.1"/><circle cx="524.0" cy="225.3" r="1.1"/><circle cx="524.5" cy="218.8" r="1.3"/><circle cx="524.5" cy="222.0" r="1.3"/><circle cx="525.1" cy="225.1" r="1.1"/><circle cx="524.1" cy="238.2" r="1.3"/><circle cx="525.3" cy="203.2" r="1.3"/><circle cx="525.0" cy="242.3" r="1.1"/><circle cx="526.0" cy="219.1" r="0.9"/><circle cx="524.8" cy="234.8" r="1.5"/><circle cx="525.1" cy="211.5" r="1.3"/><circle cx="524.6" cy="240.0" r="1.1"/><circle cx="526.0" cy="220.5" r="0.9"/><circle cx="524.4" cy="204.1" r="1.1"/><circle cx="525.1" cy="229.6" r="1.3"/><circle cx="524.7" cy="232.7" r="1.3"/><circle cx="524.1" cy="221.4" r="1.1"/><circle cx="524.1" cy="217.4" r="1.3"/><circle cx="527.6" cy="232.1" r="1.5"/><circle cx="526.6" cy="224.0" r="0.9"/><circle cx="527.9" cy="222.0" r="1.5"/><circle cx="526.5" cy="239.0" r="0.9"/><circle cx="526.0" cy="208.4" r="1.3"/><circle cx="526.8" cy="217.5" r="1.3"/><circle cx="527.6" cy="217.3" r="1.5"/><circle cx="526.7" cy="213.9" r="1.3"/><circle cx="527.2" cy="213.3" r="1.1"/><circle cx="527.5" cy="211.2" r="1.1"/><circle cx="527.1" cy="229.9" r="1.1"/><circle cx="526.7" cy="209.0" r="1.3"/><circle cx="526.7" cy="219.9" r="0.9"/><circle cx="526.8" cy="204.9" r="0.9"/><circle cx="526.6" cy="224.2" r="1.1"/><circle cx="526.0" cy="209.7" r="0.9"/><circle cx="528.2" cy="242.3" r="1.5"/><circle cx="528.9" cy="240.4" r="1.5"/><circle cx="528.8" cy="231.0" r="1.1"/><circle cx="529.6" cy="205.3" r="1.5"/><circle cx="529.9" cy="215.5" r="1.1"/><circle cx="529.6" cy="223.7" r="0.9"/><circle cx="528.3" cy="228.1" r="1.5"/><circle cx="529.8" cy="204.8" r="1.3"/><circle cx="529.8" cy="237.0" r="1.5"/><circle cx="529.0" cy="225.4" r="0.9"/><circle cx="528.2" cy="232.3" r="1.5"/><circle cx="528.9" cy="221.4" r="1.5"/><circle cx="529.0" cy="217.7" r="0.9"/><circle cx="529.0" cy="203.8" r="1.5"/><circle cx="528.9" cy="226.4" r="0.9"/><circle cx="529.9" cy="208.7" r="1.5"/><circle cx="528.7" cy="212.8" r="1.3"/><circle cx="530.9" cy="224.8" r="0.9"/><circle cx="531.7" cy="207.4" r="1.5"/><circle cx="530.2" cy="209.9" r="1.1"/><circle cx="531.7" cy="234.8" r="1.3"/><circle cx="532.0" cy="204.9" r="0.9"/><circle cx="531.4" cy="212.5" r="1.3"/><circle cx="530.9" cy="224.1" r="1.5"/><circle cx="530.4" cy="213.7" r="1.1"/><circle cx="530.1" cy="224.9" r="1.5"/><circle cx="531.8" cy="205.2" r="1.5"/><circle cx="531.7" cy="233.7" r="0.9"/><circle cx="531.6" cy="208.5" r="1.3"/><circle cx="530.4" cy="215.9" r="1.3"/><circle cx="531.9" cy="211.2" r="1.3"/><circle cx="530.2" cy="209.7" r="1.5"/><circle cx="530.1" cy="230.1" r="1.5"/><circle cx="531.8" cy="205.2" r="1.1"/><circle cx="532.6" cy="241.5" r="1.1"/><circle cx="533.1" cy="243.0" r="1.5"/><circle cx="532.0" cy="216.0" r="1.3"/><circle cx="533.7" cy="241.0" r="1.1"/><circle cx="533.4" cy="209.5" r="1.1"/><circle cx="532.3" cy="226.0" r="0.9"/><circle cx="532.3" cy="206.8" r="1.3"/><circle cx="533.2" cy="216.8" r="1.1"/><circle cx="532.0" cy="204.9" r="1.1"/><circle cx="533.5" cy="216.9" r="1.3"/><circle cx="533.5" cy="210.3" r="0.9"/><circle cx="533.3" cy="219.5" r="1.5"/><circle cx="532.6" cy="207.6" r="0.9"/><circle cx="533.9" cy="216.3" r="1.5"/><circle cx="532.5" cy="225.9" r="1.3"/><circle cx="532.2" cy="238.2" r="0.9"/><circle cx="533.4" cy="220.8" r="1.5"/><circle cx="535.5" cy="226.8" r="1.5"/><circle cx="535.3" cy="217.1" r="1.3"/><circle cx="534.6" cy="220.1" r="1.3"/><circle cx="534.6" cy="230.7" r="1.1"/><circle cx="534.0" cy="217.4" r="1.3"/><circle cx="534.8" cy="213.4" r="0.9"/><circle cx="535.6" cy="237.2" r="0.9"/><circle cx="535.1" cy="205.9" r="1.1"/><circle cx="534.2" cy="216.9" r="1.3"/><circle cx="534.1" cy="226.4" r="1.3"/><circle cx="536.0" cy="235.8" r="0.9"/><circle cx="535.3" cy="208.3" r="0.9"/><circle cx="534.7" cy="221.1" r="1.3"/><circle cx="535.0" cy="228.9" r="0.9"/><circle cx="535.9" cy="242.4" r="1.5"/><circle cx="534.9" cy="211.4" r="0.9"/><circle cx="536.0" cy="204.6" r="1.5"/><circle cx="535.3" cy="234.7" r="1.1"/><circle cx="537.2" cy="222.5" r="1.1"/><circle cx="537.0" cy="205.6" r="0.9"/><circle cx="536.0" cy="241.9" r="1.3"/><circle cx="537.3" cy="242.4" r="1.5"/><circle cx="537.6" cy="206.6" r="1.5"/><circle cx="536.3" cy="217.2" r="1.3"/><circle cx="537.9" cy="239.2" r="0.9"/><circle cx="536.2" cy="218.9" r="0.9"/><circle cx="537.6" cy="205.5" r="0.9"/><circle cx="536.1" cy="211.6" r="0.9"/><circle cx="537.0" cy="214.5" r="1.3"/><circle cx="537.6" cy="211.9" r="1.5"/><circle cx="536.9" cy="243.2" r="1.5"/><circle cx="536.3" cy="205.9" r="1.1"/><circle cx="537.7" cy="205.9" r="1.1"/><circle cx="536.3" cy="225.3" r="1.1"/><circle cx="536.8" cy="227.3" r="0.9"/><circle cx="536.8" cy="202.0" r="1.1"/><circle cx="538.2" cy="232.6" r="1.5"/><circle cx="538.3" cy="223.9" r="0.9"/><circle cx="538.8" cy="222.3" r="0.9"/><circle cx="538.8" cy="214.0" r="1.1"/><circle cx="538.5" cy="206.1" r="1.5"/><circle cx="538.7" cy="222.1" r="1.1"/><circle cx="539.1" cy="222.6" r="0.9"/><circle cx="538.8" cy="214.0" r="1.3"/><circle cx="538.4" cy="204.9" r="1.5"/><circle cx="538.8" cy="228.9" r="1.3"/><circle cx="538.9" cy="203.4" r="0.9"/><circle cx="538.3" cy="217.6" r="1.3"/><circle cx="538.8" cy="210.8" r="0.9"/><circle cx="539.4" cy="202.7" r="1.3"/><circle cx="539.0" cy="211.1" r="1.5"/><circle cx="539.5" cy="217.2" r="0.9"/><circle cx="538.0" cy="226.5" r="1.1"/><circle cx="538.7" cy="226.7" r="1.3"/><circle cx="540.4" cy="233.8" r="0.9"/><circle cx="540.6" cy="222.4" r="1.3"/><circle cx="540.1" cy="205.1" r="1.3"/><circle cx="541.2" cy="235.7" r="1.5"/><circle cx="541.3" cy="217.1" r="0.9"/><circle cx="540.6" cy="230.3" r="0.9"/><circle cx="540.8" cy="210.7" r="1.3"/><circle cx="540.7" cy="214.7" r="1.1"/><circle cx="541.6" cy="228.6" r="0.9"/><circle cx="542.0" cy="222.1" r="1.5"/><circle cx="541.2" cy="224.8" r="1.3"/><circle cx="541.3" cy="202.0" r="1.1"/><circle cx="541.2" cy="201.3" r="1.5"/><circle cx="540.8" cy="230.3" r="0.9"/><circle cx="540.3" cy="204.6" r="1.1"/><circle cx="540.8" cy="220.3" r="1.5"/><circle cx="541.6" cy="220.2" r="0.9"/><circle cx="541.7" cy="242.1" r="1.3"/><circle cx="543.1" cy="205.7" r="0.9"/><circle cx="542.8" cy="230.8" r="0.9"/><circle cx="543.8" cy="210.0" r="1.5"/><circle cx="542.6" cy="206.9" r="0.9"/><circle cx="542.3" cy="212.7" r="1.5"/><circle cx="542.1" cy="219.6" r="1.5"/><circle cx="542.4" cy="231.3" r="1.5"/><circle cx="543.0" cy="230.7" r="1.5"/><circle cx="543.0" cy="221.7" r="1.1"/><circle cx="543.5" cy="214.9" r="0.9"/><circle cx="542.7" cy="207.9" r="1.3"/><circle cx="542.8" cy="235.7" r="1.5"/><circle cx="542.9" cy="226.4" r="1.5"/><circle cx="542.7" cy="226.1" r="1.5"/><circle cx="543.4" cy="218.0" r="0.9"/><circle cx="543.4" cy="211.0" r="1.3"/><circle cx="542.7" cy="218.6" r="0.9"/><circle cx="542.5" cy="203.6" r="1.3"/><circle cx="545.4" cy="219.5" r="0.9"/><circle cx="545.1" cy="243.4" r="1.5"/><circle cx="544.8" cy="205.7" r="1.1"/><circle cx="545.5" cy="205.0" r="1.3"/><circle cx="545.0" cy="207.1" r="1.3"/><circle cx="545.1" cy="224.8" r="1.3"/><circle cx="545.0" cy="220.1" r="1.3"/><circle cx="545.6" cy="204.8" r="1.1"/><circle cx="544.4" cy="209.3" r="1.3"/><circle cx="544.2" cy="234.1" r="1.1"/><circle cx="545.8" cy="241.1" r="1.3"/><circle cx="544.7" cy="242.3" r="1.3"/><circle cx="545.2" cy="237.0" r="1.3"/><circle cx="544.2" cy="216.2" r="1.1"/><circle cx="545.1" cy="211.6" r="1.3"/><circle cx="544.6" cy="225.2" r="1.3"/><circle cx="545.0" cy="212.5" r="1.3"/><circle cx="545.6" cy="242.0" r="1.1"/><circle cx="545.7" cy="207.5" r="1.1"/><circle cx="547.1" cy="232.9" r="1.3"/><circle cx="546.6" cy="219.2" r="1.3"/><circle cx="547.3" cy="224.4" r="1.5"/><circle cx="546.9" cy="216.7" r="1.1"/><circle cx="547.9" cy="222.7" r="1.3"/><circle cx="547.8" cy="203.4" r="0.9"/><circle cx="547.1" cy="241.6" r="0.9"/><circle cx="546.6" cy="200.2" r="0.9"/><circle cx="546.4" cy="216.5" r="1.3"/><circle cx="547.7" cy="202.8" r="0.9"/><circle cx="546.3" cy="218.6" r="1.1"/><circle cx="548.0" cy="230.7" r="0.9"/><circle cx="546.9" cy="230.5" r="0.9"/><circle cx="547.1" cy="215.9" r="1.5"/><circle cx="547.9" cy="239.5" r="0.9"/><circle cx="546.8" cy="221.8" r="0.9"/><circle cx="547.4" cy="201.4" r="0.9"/><circle cx="546.3" cy="213.5" r="1.3"/><circle cx="546.4" cy="212.3" r="1.1"/><circle cx="549.9" cy="241.8" r="1.5"/><circle cx="549.9" cy="200.6" r="1.5"/><circle cx="549.6" cy="245.1" r="1.3"/><circle cx="549.9" cy="203.6" r="1.1"/><circle cx="549.9" cy="201.1" r="0.9"/><circle cx="548.6" cy="213.3" r="0.9"/><circle cx="548.8" cy="206.4" r="1.1"/><circle cx="549.4" cy="223.3" r="0.9"/><circle cx="548.0" cy="202.7" r="1.1"/><circle cx="550.0" cy="237.6" r="1.5"/><circle cx="548.7" cy="209.6" r="1.5"/><circle cx="548.0" cy="234.7" r="1.3"/><circle cx="548.1" cy="216.5" r="1.3"/><circle cx="549.0" cy="215.7" r="1.1"/><circle cx="549.9" cy="218.5" r="1.1"/><circle cx="548.3" cy="211.2" r="1.5"/><circle cx="548.4" cy="241.5" r="1.1"/><circle cx="548.5" cy="229.5" r="1.3"/><circle cx="549.2" cy="225.8" r="0.9"/><circle cx="550.5" cy="213.2" r="1.3"/><circle cx="551.5" cy="208.7" r="0.9"/><circle cx="551.6" cy="224.3" r="0.9"/><circle cx="551.4" cy="222.6" r="1.5"/><circle cx="550.4" cy="218.4" r="1.1"/><circle cx="550.7" cy="215.7" r="0.9"/><circle cx="552.0" cy="217.2" r="1.1"/><circle cx="550.8" cy="230.3" r="1.1"/><circle cx="550.7" cy="235.9" r="1.5"/><circle cx="551.8" cy="225.3" r="0.9"/><circle cx="551.0" cy="237.2" r="0.9"/><circle cx="550.1" cy="200.7" r="0.9"/><circle cx="550.8" cy="206.6" r="0.9"/><circle cx="550.4" cy="239.9" r="1.1"/><circle cx="551.9" cy="215.1" r="1.1"/><circle cx="550.3" cy="232.3" r="0.9"/><circle cx="550.4" cy="205.5" r="1.1"/><circle cx="551.8" cy="232.9" r="1.5"/><circle cx="550.7" cy="232.9" r="1.3"/><circle cx="550.3" cy="239.6" r="1.1"/><circle cx="553.4" cy="204.6" r="1.3"/><circle cx="552.4" cy="204.6" r="1.5"/><circle cx="553.5" cy="223.6" r="0.9"/><circle cx="552.2" cy="209.3" r="0.9"/><circle cx="553.8" cy="244.8" r="1.1"/><circle cx="552.3" cy="214.4" r="0.9"/><circle cx="552.6" cy="236.2" r="1.5"/><circle cx="552.7" cy="245.8" r="1.5"/><circle cx="552.9" cy="207.8" r="1.5"/><circle cx="554.0" cy="199.9" r="1.5"/><circle cx="553.1" cy="212.1" r="0.9"/><circle cx="552.3" cy="233.5" r="1.1"/><circle cx="553.9" cy="199.9" r="1.5"/><circle cx="553.6" cy="222.3" r="0.9"/><circle cx="552.9" cy="207.4" r="0.9"/><circle cx="552.3" cy="244.6" r="1.3"/><circle cx="552.5" cy="228.0" r="1.3"/><circle cx="553.4" cy="210.6" r="1.3"/><circle cx="552.3" cy="205.6" r="1.5"/><circle cx="552.9" cy="226.5" r="1.3"/><circle cx="555.8" cy="209.6" r="1.1"/><circle cx="554.9" cy="225.3" r="1.3"/><circle cx="555.5" cy="243.1" r="1.3"/><circle cx="554.5" cy="226.3" r="1.1"/><circle cx="555.4" cy="214.7" r="0.9"/><circle cx="555.3" cy="198.5" r="1.5"/><circle cx="555.1" cy="222.2" r="1.5"/><circle cx="555.4" cy="230.1" r="1.5"/><circle cx="554.5" cy="225.9" r="1.5"/><circle cx="554.1" cy="213.7" r="1.5"/><circle cx="554.1" cy="205.2" r="0.9"/><circle cx="554.6" cy="219.6" r="0.9"/><circle cx="554.6" cy="200.8" r="1.5"/><circle cx="555.6" cy="210.6" r="0.9"/><circle cx="554.9" cy="225.0" r="0.9"/><circle cx="555.0" cy="221.5" r="1.3"/><circle cx="554.6" cy="230.3" r="1.3"/><circle cx="555.9" cy="229.4" r="1.5"/><circle cx="555.6" cy="245.3" r="1.1"/><circle cx="555.4" cy="236.6" r="1.3"/><circle cx="557.6" cy="206.5" r="1.5"/><circle cx="556.6" cy="209.8" r="0.9"/><circle cx="557.9" cy="230.0" r="1.5"/><circle cx="557.6" cy="227.7" r="1.5"/><circle cx="557.9" cy="229.3" r="0.9"/><circle cx="558.0" cy="205.7" r="1.3"/><circle cx="558.0" cy="240.4" r="1.3"/><circle cx="556.5" cy="227.7" r="1.3"/><circle cx="558.0" cy="228.3" r="1.1"/><circle cx="557.5" cy="230.6" r="1.5"/><circle cx="557.7" cy="235.4" r="0.9"/><circle cx="557.1" cy="243.9" r="1.5"/><circle cx="556.4" cy="232.6" r="0.9"/><circle cx="556.0" cy="205.8" r="1.1"/><circle cx="556.5" cy="228.1" r="0.9"/><circle cx="557.4" cy="223.1" r="1.3"/><circle cx="556.9" cy="231.6" r="0.9"/><circle cx="557.3" cy="231.4" r="0.9"/><circle cx="556.7" cy="243.1" r="0.9"/><circle cx="556.6" cy="244.3" r="1.3"/><circle cx="559.5" cy="214.0" r="1.3"/><circle cx="558.4" cy="246.6" r="0.9"/><circle cx="558.1" cy="240.2" r="0.9"/><circle cx="558.9" cy="234.4" r="1.1"/><circle cx="558.6" cy="243.7" r="1.3"/><circle cx="558.5" cy="213.7" r="0.9"/><circle cx="558.7" cy="245.0" r="1.3"/><circle cx="559.1" cy="244.5" r="1.5"/><circle cx="558.4" cy="243.1" r="1.5"/><circle cx="559.8" cy="201.4" r="1.5"/><circle cx="558.9" cy="231.5" r="1.3"/><circle cx="559.2" cy="218.3" r="0.9"/><circle cx="559.1" cy="206.9" r="0.9"/><circle cx="559.2" cy="206.6" r="1.3"/><circle cx="559.6" cy="226.5" r="1.3"/><circle cx="558.5" cy="237.0" r="0.9"/><circle cx="559.4" cy="220.1" r="1.5"/><circle cx="560.0" cy="244.7" r="1.1"/><circle cx="559.9" cy="241.5" r="0.9"/><circle cx="559.1" cy="197.6" r="1.5"/><circle cx="560.9" cy="203.5" r="1.5"/><circle cx="561.0" cy="236.6" r="1.1"/><circle cx="560.8" cy="229.8" r="1.5"/><circle cx="560.1" cy="232.8" r="1.1"/><circle cx="560.5" cy="225.8" r="1.5"/><circle cx="560.0" cy="200.8" r="1.5"/><circle cx="561.5" cy="228.2" r="1.1"/><circle cx="561.9" cy="240.0" r="1.5"/><circle cx="562.0" cy="241.1" r="0.9"/><circle cx="560.7" cy="198.2" r="1.5"/><circle cx="561.5" cy="240.9" r="1.1"/><circle cx="560.5" cy="236.9" r="1.3"/><circle cx="560.9" cy="215.5" r="1.5"/><circle cx="560.4" cy="219.0" r="1.1"/><circle cx="561.2" cy="217.8" r="1.3"/><circle cx="561.2" cy="201.6" r="1.5"/><circle cx="561.3" cy="224.8" r="1.5"/><circle cx="561.4" cy="222.5" r="1.5"/><circle cx="561.8" cy="200.9" r="1.1"/><circle cx="560.6" cy="233.5" r="1.5"/><circle cx="560.9" cy="230.0" r="1.1"/><circle cx="562.2" cy="226.7" r="1.3"/><circle cx="563.1" cy="216.7" r="1.5"/><circle cx="562.7" cy="218.5" r="0.9"/><circle cx="563.2" cy="208.0" r="1.5"/><circle cx="562.6" cy="245.5" r="1.5"/><circle cx="562.1" cy="226.5" r="1.1"/><circle cx="563.7" cy="216.7" r="1.3"/><circle cx="563.5" cy="226.3" r="1.3"/><circle cx="562.5" cy="231.5" r="1.5"/><circle cx="563.1" cy="247.1" r="1.1"/><circle cx="563.5" cy="226.5" r="0.9"/><circle cx="562.5" cy="225.7" r="1.5"/><circle cx="562.7" cy="243.8" r="1.5"/><circle cx="563.3" cy="211.4" r="1.5"/><circle cx="563.4" cy="201.7" r="0.9"/><circle cx="562.9" cy="223.7" r="1.5"/><circle cx="563.1" cy="245.4" r="1.3"/><circle cx="562.9" cy="199.3" r="0.9"/><circle cx="562.6" cy="232.0" r="1.3"/><circle cx="563.7" cy="216.1" r="1.3"/><circle cx="562.3" cy="226.2" r="0.9"/><circle cx="564.8" cy="217.2" r="1.3"/><circle cx="565.3" cy="239.5" r="1.1"/><circle cx="564.4" cy="197.6" r="0.9"/><circle cx="565.3" cy="197.6" r="1.1"/><circle cx="564.5" cy="221.6" r="0.9"/><circle cx="565.3" cy="211.4" r="1.3"/><circle cx="564.4" cy="232.8" r="1.3"/><circle cx="564.7" cy="241.8" r="1.1"/><circle cx="565.7" cy="232.6" r="0.9"/><circle cx="564.9" cy="238.4" r="1.3"/><circle cx="565.2" cy="247.5" r="1.1"/><circle cx="565.1" cy="227.5" r="1.3"/><circle cx="564.3" cy="246.3" r="1.3"/><circle cx="565.6" cy="242.3" r="1.1"/><circle cx="565.7" cy="243.7" r="1.1"/><circle cx="564.9" cy="227.6" r="1.3"/><circle cx="564.4" cy="242.1" r="1.1"/><circle cx="565.0" cy="199.3" r="1.5"/><circle cx="565.4" cy="198.7" r="0.9"/><circle cx="565.5" cy="231.6" r="0.9"/><circle cx="564.2" cy="198.5" r="1.3"/><circle cx="565.5" cy="221.8" r="1.5"/><circle cx="566.2" cy="196.9" r="1.1"/><circle cx="567.1" cy="198.1" r="1.1"/><circle cx="567.4" cy="212.8" r="1.5"/><circle cx="567.6" cy="207.5" r="0.9"/><circle cx="566.7" cy="214.8" r="1.1"/><circle cx="567.8" cy="211.6" r="0.9"/><circle cx="566.0" cy="212.2" r="1.1"/><circle cx="566.5" cy="201.8" r="0.9"/><circle cx="566.9" cy="222.8" r="1.3"/><circle cx="567.1" cy="242.2" r="1.5"/><circle cx="567.4" cy="222.2" r="1.5"/><circle cx="567.6" cy="214.9" r="1.3"/><circle cx="566.9" cy="223.7" r="1.1"/><circle cx="566.6" cy="211.4" r="1.5"/><circle cx="566.1" cy="237.8" r="1.5"/><circle cx="566.6" cy="205.9" r="1.5"/><circle cx="567.4" cy="235.0" r="1.5"/><circle cx="566.2" cy="222.2" r="1.1"/><circle cx="567.8" cy="248.1" r="1.1"/><circle cx="566.1" cy="208.8" r="1.3"/><circle cx="567.1" cy="222.9" r="1.3"/><circle cx="566.1" cy="211.1" r="1.3"/><circle cx="568.0" cy="199.8" r="0.9"/><circle cx="568.3" cy="216.2" r="0.9"/><circle cx="568.9" cy="248.3" r="1.5"/><circle cx="569.2" cy="224.6" r="0.9"/><circle cx="569.2" cy="204.7" r="1.5"/><circle cx="569.5" cy="208.4" r="1.5"/><circle cx="568.4" cy="219.3" r="1.3"/><circle cx="570.0" cy="244.7" r="0.9"/><circle cx="568.0" cy="234.0" r="1.1"/><circle cx="569.2" cy="208.4" r="1.3"/><circle cx="568.7" cy="246.6" r="0.9"/><circle cx="570.0" cy="205.2" r="1.1"/><circle cx="569.6" cy="234.1" r="1.1"/><circle cx="568.1" cy="197.2" r="1.1"/><circle cx="569.6" cy="229.3" r="1.1"/><circle cx="569.8" cy="229.9" r="1.3"/><circle cx="569.6" cy="243.6" r="1.1"/><circle cx="568.6" cy="201.6" r="0.9"/><circle cx="569.9" cy="197.7" r="1.3"/><circle cx="568.8" cy="239.4" r="1.3"/><circle cx="568.8" cy="230.0" r="1.5"/><circle cx="569.0" cy="247.2" r="1.1"/><circle cx="569.2" cy="209.9" r="1.1"/><circle cx="569.3" cy="198.9" r="1.1"/><circle cx="570.8" cy="245.8" r="0.9"/><circle cx="572.0" cy="231.3" r="1.5"/><circle cx="571.9" cy="212.3" r="0.9"/><circle cx="570.1" cy="221.7" r="1.5"/><circle cx="570.2" cy="208.7" r="0.9"/><circle cx="570.1" cy="248.3" r="1.3"/><circle cx="571.1" cy="216.1" r="1.1"/><circle cx="570.4" cy="195.6" r="1.1"/><circle cx="570.9" cy="221.3" r="0.9"/><circle cx="570.2" cy="241.9" r="0.9"/><circle cx="570.3" cy="215.8" r="1.1"/><circle cx="571.7" cy="228.6" r="1.1"/><circle cx="571.5" cy="234.2" r="0.9"/><circle cx="570.7" cy="198.6" r="1.3"/><circle cx="570.3" cy="197.0" r="0.9"/><circle cx="570.5" cy="230.1" r="1.1"/><circle cx="570.2" cy="197.5" r="1.3"/><circle cx="571.2" cy="244.7" r="0.9"/><circle cx="571.2" cy="207.5" r="1.1"/><circle cx="570.4" cy="201.1" r="1.1"/><circle cx="570.1" cy="223.3" r="0.9"/><circle cx="570.3" cy="224.0" r="1.5"/><circle cx="570.8" cy="215.5" r="0.9"/><circle cx="572.9" cy="196.7" r="0.9"/><circle cx="572.4" cy="213.0" r="0.9"/><circle cx="572.8" cy="238.0" r="1.5"/><circle cx="572.6" cy="210.3" r="1.1"/><circle cx="572.3" cy="238.6" r="1.3"/><circle cx="573.8" cy="200.5" r="0.9"/><circle cx="572.5" cy="210.9" r="1.1"/><circle cx="573.5" cy="237.7" r="1.1"/><circle cx="573.3" cy="242.2" r="1.3"/><circle cx="573.5" cy="200.8" r="0.9"/><circle cx="573.5" cy="242.2" r="1.3"/><circle cx="573.2" cy="231.8" r="1.3"/><circle cx="574.0" cy="240.8" r="1.3"/><circle cx="573.9" cy="202.5" r="1.5"/><circle cx="573.0" cy="199.5" r="0.9"/><circle cx="572.9" cy="226.4" r="1.1"/><circle cx="572.6" cy="228.0" r="1.1"/><circle cx="572.5" cy="231.3" r="0.9"/><circle cx="572.5" cy="214.7" r="1.1"/><circle cx="573.1" cy="209.0" r="1.5"/><circle cx="573.1" cy="213.2" r="0.9"/><circle cx="572.2" cy="232.4" r="1.3"/><circle cx="573.3" cy="220.4" r="0.9"/><circle cx="575.4" cy="207.1" r="1.5"/><circle cx="574.4" cy="220.0" r="1.5"/><circle cx="575.9" cy="217.6" r="1.3"/><circle cx="575.1" cy="207.6" r="1.5"/><circle cx="575.1" cy="228.7" r="1.1"/><circle cx="574.3" cy="227.6" r="0.9"/><circle cx="574.8" cy="241.3" r="1.1"/><circle cx="575.1" cy="231.8" r="0.9"/><circle cx="574.7" cy="246.2" r="1.1"/><circle cx="574.9" cy="240.2" r="1.3"/><circle cx="575.1" cy="241.9" r="1.3"/><circle cx="575.9" cy="197.3" r="0.9"/><circle cx="575.0" cy="199.8" r="1.1"/><circle cx="575.7" cy="203.1" r="1.3"/><circle cx="574.3" cy="227.8" r="1.3"/><circle cx="575.8" cy="214.9" r="1.3"/><circle cx="575.8" cy="225.1" r="1.1"/><circle cx="575.7" cy="231.9" r="1.3"/><circle cx="574.6" cy="237.4" r="1.5"/><circle cx="574.9" cy="194.7" r="1.5"/><circle cx="575.7" cy="221.0" r="1.1"/><circle cx="575.0" cy="197.4" r="1.1"/><circle cx="574.7" cy="214.5" r="0.9"/><circle cx="576.0" cy="238.4" r="1.3"/><circle cx="577.2" cy="217.5" r="1.3"/><circle cx="576.8" cy="245.8" r="1.5"/><circle cx="577.9" cy="232.3" r="1.3"/><circle cx="576.2" cy="200.4" r="1.5"/><circle cx="577.1" cy="248.2" r="1.1"/><circle cx="576.9" cy="225.9" r="0.9"/><circle cx="577.2" cy="236.9" r="1.5"/><circle cx="577.3" cy="211.3" r="1.5"/><circle cx="577.8" cy="205.8" r="0.9"/><circle cx="576.0" cy="203.3" r="1.1"/><circle cx="576.3" cy="201.4" r="0.9"/><circle cx="577.1" cy="202.5" r="1.3"/><circle cx="576.9" cy="228.0" r="0.9"/><circle cx="576.6" cy="196.5" r="1.1"/><circle cx="576.8" cy="198.0" r="0.9"/><circle cx="578.0" cy="212.5" r="1.5"/><circle cx="577.8" cy="238.5" r="1.1"/><circle cx="577.7" cy="245.3" r="1.1"/><circle cx="576.9" cy="210.8" r="1.5"/><circle cx="576.4" cy="230.1" r="0.9"/><circle cx="576.8" cy="202.6" r="1.5"/><circle cx="577.2" cy="211.8" r="1.5"/><circle cx="577.8" cy="238.7" r="0.9"/><circle cx="577.6" cy="207.2" r="1.3"/><circle cx="579.1" cy="211.5" r="1.1"/><circle cx="579.2" cy="208.4" r="1.1"/><circle cx="578.7" cy="217.4" r="1.1"/><circle cx="578.9" cy="200.1" r="0.9"/><circle cx="578.5" cy="207.3" r="1.5"/><circle cx="579.0" cy="230.3" r="1.3"/><circle cx="578.4" cy="197.7" r="1.1"/><circle cx="579.9" cy="228.0" r="1.1"/><circle cx="578.2" cy="222.3" r="1.5"/><circle cx="578.8" cy="230.5" r="1.3"/><circle cx="579.8" cy="238.2" r="0.9"/><circle cx="579.3" cy="213.5" r="1.3"/><circle cx="579.1" cy="208.7" r="1.1"/><circle cx="579.7" cy="215.4" r="0.9"/><circle cx="578.5" cy="211.4" r="0.9"/><circle cx="579.9" cy="203.2" r="1.3"/><circle cx="579.2" cy="229.8" r="1.1"/><circle cx="580.0" cy="223.8" r="0.9"/><circle cx="579.1" cy="237.9" r="1.5"/><circle cx="578.5" cy="243.7" r="1.3"/><circle cx="579.4" cy="247.4" r="1.3"/><circle cx="579.9" cy="239.6" r="1.3"/><circle cx="579.5" cy="195.0" r="1.3"/><circle cx="579.0" cy="194.0" r="1.5"/><circle cx="581.6" cy="228.0" r="0.9"/><circle cx="580.5" cy="220.1" r="1.5"/><circle cx="580.6" cy="194.9" r="1.5"/><circle cx="580.9" cy="207.9" r="1.1"/><circle cx="580.7" cy="246.6" r="0.9"/><circle cx="580.3" cy="239.9" r="0.9"/><circle cx="580.4" cy="231.1" r="0.9"/><circle cx="580.4" cy="228.8" r="1.3"/><circle cx="582.0" cy="226.5" r="1.3"/><circle cx="581.9" cy="237.0" r="0.9"/><circle cx="580.9" cy="238.1" r="0.9"/><circle cx="580.3" cy="223.7" r="1.5"/><circle cx="581.6" cy="236.2" r="1.5"/><circle cx="580.2" cy="201.3" r="0.9"/><circle cx="581.7" cy="248.9" r="1.3"/><circle cx="580.2" cy="201.0" r="1.1"/><circle cx="581.1" cy="209.1" r="1.3"/><circle cx="580.2" cy="212.3" r="1.5"/><circle cx="580.0" cy="224.7" r="0.9"/><circle cx="581.8" cy="205.2" r="1.3"/><circle cx="580.5" cy="237.6" r="1.1"/><circle cx="580.8" cy="223.2" r="1.1"/><circle cx="580.9" cy="195.3" r="0.9"/><circle cx="581.4" cy="199.1" r="1.1"/><circle cx="581.2" cy="225.9" r="1.5"/><circle cx="584.0" cy="241.7" r="1.5"/><circle cx="583.3" cy="220.5" r="1.5"/><circle cx="582.4" cy="237.0" r="1.5"/><circle cx="583.9" cy="204.7" r="0.9"/><circle cx="582.7" cy="217.7" r="0.9"/><circle cx="583.8" cy="220.4" r="1.1"/><circle cx="583.8" cy="197.8" r="1.3"/><circle cx="583.3" cy="234.9" r="1.3"/><circle cx="582.9" cy="219.4" r="1.5"/><circle cx="583.6" cy="239.3" r="1.3"/><circle cx="583.9" cy="233.6" r="1.1"/><circle cx="582.1" cy="215.3" r="1.3"/><circle cx="583.9" cy="224.9" r="1.5"/><circle cx="583.3" cy="205.7" r="1.3"/><circle cx="582.1" cy="211.1" r="1.3"/><circle cx="582.2" cy="238.8" r="0.9"/><circle cx="583.2" cy="241.9" r="1.5"/><circle cx="582.7" cy="203.3" r="1.3"/><circle cx="582.0" cy="237.6" r="1.1"/><circle cx="582.4" cy="240.7" r="0.9"/><circle cx="582.4" cy="214.8" r="1.5"/><circle cx="583.5" cy="235.9" r="1.3"/><circle cx="582.1" cy="221.3" r="0.9"/><circle cx="582.9" cy="239.3" r="1.3"/><circle cx="583.9" cy="196.2" r="1.3"/><circle cx="585.9" cy="248.1" r="1.1"/><circle cx="585.7" cy="211.7" r="1.1"/><circle cx="584.2" cy="210.1" r="1.5"/><circle cx="584.2" cy="227.1" r="1.3"/><circle cx="584.4" cy="245.7" r="0.9"/><circle cx="584.1" cy="209.1" r="1.3"/><circle cx="585.6" cy="215.8" r="0.9"/><circle cx="585.2" cy="241.0" r="0.9"/><circle cx="584.8" cy="216.1" r="1.3"/><circle cx="584.9" cy="221.9" r="0.9"/><circle cx="584.6" cy="208.2" r="1.3"/><circle cx="584.8" cy="225.8" r="1.3"/><circle cx="584.7" cy="219.3" r="0.9"/><circle cx="584.7" cy="221.4" r="1.5"/><circle cx="584.2" cy="229.2" r="0.9"/><circle cx="584.6" cy="209.8" r="0.9"/><circle cx="584.5" cy="240.1" r="0.9"/><circle cx="585.5" cy="193.7" r="0.9"/><circle cx="584.9" cy="223.4" r="0.9"/><circle cx="584.8" cy="216.0" r="1.5"/><circle cx="584.2" cy="215.1" r="1.3"/><circle cx="585.0" cy="239.4" r="1.1"/><circle cx="585.3" cy="219.6" r="0.9"/><circle cx="585.7" cy="241.4" r="0.9"/><circle cx="585.2" cy="199.9" r="0.9"/><circle cx="586.3" cy="225.8" r="1.1"/><circle cx="587.8" cy="237.7" r="0.9"/><circle cx="587.5" cy="210.3" r="1.5"/><circle cx="586.0" cy="205.3" r="1.5"/><circle cx="587.8" cy="238.8" r="1.3"/><circle cx="587.9" cy="216.5" r="1.5"/><circle cx="587.5" cy="195.3" r="0.9"/><circle cx="586.1" cy="220.7" r="1.3"/><circle cx="586.3" cy="226.8" r="1.5"/><circle cx="587.9" cy="199.2" r="1.5"/><circle cx="586.3" cy="225.1" r="0.9"/><circle cx="586.4" cy="214.9" r="1.5"/><circle cx="587.0" cy="199.7" r="1.3"/><circle cx="587.9" cy="248.1" r="1.1"/><circle cx="587.4" cy="203.6" r="1.5"/><circle cx="587.2" cy="212.8" r="1.3"/><circle cx="586.6" cy="192.8" r="0.9"/><circle cx="587.9" cy="251.7" r="0.9"/><circle cx="587.3" cy="197.7" r="0.9"/><circle cx="587.6" cy="246.1" r="1.3"/><circle cx="587.1" cy="218.6" r="1.3"/><circle cx="587.9" cy="235.1" r="1.5"/><circle cx="586.3" cy="212.9" r="1.3"/><circle cx="587.9" cy="228.2" r="1.3"/><circle cx="587.5" cy="199.9" r="1.3"/><circle cx="588.4" cy="205.2" r="0.9"/><circle cx="589.9" cy="248.1" r="1.5"/><circle cx="589.7" cy="241.7" r="0.9"/><circle cx="589.8" cy="248.7" r="0.9"/><circle cx="588.1" cy="195.0" r="1.5"/><circle cx="588.1" cy="227.2" r="1.5"/><circle cx="589.7" cy="203.5" r="1.3"/><circle cx="589.4" cy="213.9" r="0.9"/><circle cx="589.5" cy="214.6" r="1.5"/><circle cx="588.9" cy="203.9" r="1.5"/><circle cx="588.9" cy="241.8" r="0.9"/><circle cx="588.3" cy="251.9" r="1.1"/><circle cx="589.7" cy="199.7" r="1.5"/><circle cx="589.6" cy="227.6" r="1.1"/><circle cx="589.4" cy="192.6" r="1.1"/><circle cx="589.5" cy="229.0" r="1.3"/><circle cx="588.2" cy="230.6" r="1.3"/><circle cx="589.3" cy="194.6" r="0.9"/><circle cx="589.3" cy="228.5" r="0.9"/><circle cx="589.9" cy="241.2" r="1.5"/><circle cx="588.9" cy="192.2" r="1.1"/><circle cx="589.7" cy="228.9" r="1.3"/><circle cx="588.1" cy="230.9" r="1.3"/><circle cx="589.2" cy="251.8" r="1.1"/><circle cx="589.7" cy="238.7" r="1.1"/><circle cx="591.8" cy="215.6" r="0.9"/><circle cx="591.1" cy="248.0" r="0.9"/><circle cx="592.0" cy="215.5" r="1.3"/><circle cx="590.1" cy="245.4" r="1.3"/><circle cx="591.5" cy="237.2" r="0.9"/><circle cx="591.2" cy="217.2" r="0.9"/><circle cx="590.7" cy="251.8" r="1.1"/><circle cx="591.2" cy="209.7" r="1.3"/><circle cx="590.0" cy="209.7" r="1.3"/><circle cx="590.7" cy="244.1" r="1.3"/><circle cx="591.4" cy="213.2" r="1.5"/><circle cx="590.7" cy="208.6" r="1.1"/><circle cx="591.7" cy="237.1" r="0.9"/><circle cx="590.7" cy="206.3" r="0.9"/><circle cx="591.7" cy="252.5" r="1.1"/><circle cx="591.7" cy="197.7" r="1.5"/><circle cx="591.2" cy="199.3" r="1.3"/><circle cx="591.0" cy="207.7" r="1.5"/><circle cx="590.8" cy="195.3" r="0.9"/><circle cx="590.5" cy="204.5" r="1.3"/><circle cx="590.9" cy="217.5" r="1.1"/><circle cx="591.8" cy="248.3" r="1.3"/><circle cx="591.8" cy="213.2" r="0.9"/><circle cx="591.0" cy="222.8" r="1.1"/><circle cx="590.4" cy="235.9" r="0.9"/><circle cx="591.7" cy="199.1" r="1.5"/><circle cx="593.0" cy="218.9" r="1.3"/><circle cx="592.1" cy="223.7" r="1.5"/><circle cx="593.4" cy="197.9" r="1.1"/><circle cx="593.4" cy="211.3" r="1.1"/><circle cx="592.8" cy="223.7" r="1.3"/><circle cx="593.7" cy="234.0" r="1.3"/><circle cx="592.7" cy="239.2" r="1.3"/><circle cx="592.4" cy="248.5" r="0.9"/><circle cx="593.9" cy="238.0" r="1.5"/><circle cx="592.1" cy="200.9" r="0.9"/><circle cx="593.4" cy="211.6" r="1.5"/><circle cx="593.9" cy="209.2" r="1.1"/><circle cx="592.2" cy="191.7" r="0.9"/><circle cx="592.3" cy="227.2" r="1.5"/><circle cx="592.7" cy="250.5" r="1.3"/><circle cx="592.6" cy="202.5" r="1.5"/><circle cx="592.2" cy="192.4" r="0.9"/><circle cx="592.5" cy="198.5" r="1.3"/><circle cx="593.4" cy="243.1" r="1.1"/><circle cx="592.5" cy="200.4" r="1.5"/><circle cx="593.8" cy="248.8" r="1.5"/><circle cx="592.1" cy="213.8" r="1.1"/><circle cx="592.1" cy="209.2" r="0.9"/><circle cx="592.0" cy="248.4" r="0.9"/><circle cx="593.7" cy="193.5" r="1.5"/><circle cx="595.7" cy="204.6" r="1.3"/><circle cx="595.1" cy="193.8" r="1.5"/><circle cx="594.2" cy="237.4" r="1.5"/><circle cx="595.6" cy="205.8" r="1.5"/><circle cx="595.6" cy="207.1" r="1.5"/><circle cx="595.1" cy="235.9" r="1.1"/><circle cx="595.4" cy="204.5" r="1.1"/><circle cx="594.2" cy="244.5" r="1.1"/><circle cx="595.1" cy="195.9" r="1.3"/><circle cx="594.8" cy="193.4" r="0.9"/><circle cx="594.1" cy="230.5" r="1.5"/><circle cx="595.8" cy="215.1" r="1.1"/><circle cx="594.3" cy="236.6" r="1.1"/><circle cx="596.0" cy="205.7" r="1.5"/><circle cx="594.2" cy="241.5" r="1.5"/><circle cx="594.8" cy="251.3" r="0.9"/><circle cx="594.3" cy="198.7" r="1.3"/><circle cx="595.3" cy="241.4" r="1.1"/><circle cx="595.2" cy="219.0" r="1.5"/><circle cx="595.0" cy="192.0" r="1.1"/><circle cx="595.4" cy="241.9" r="1.5"/><circle cx="595.8" cy="202.2" r="1.5"/><circle cx="595.7" cy="241.7" r="1.1"/><circle cx="594.6" cy="203.1" r="1.5"/><circle cx="595.5" cy="220.4" r="1.1"/><circle cx="596.9" cy="245.9" r="1.3"/><circle cx="597.5" cy="246.9" r="1.3"/><circle cx="596.6" cy="225.5" r="1.1"/><circle cx="597.1" cy="224.5" r="1.3"/><circle cx="596.9" cy="195.0" r="1.5"/><circle cx="597.0" cy="203.3" r="0.9"/><circle cx="597.7" cy="219.4" r="1.5"/><circle cx="597.6" cy="251.1" r="0.9"/><circle cx="597.1" cy="216.2" r="1.1"/><circle cx="597.4" cy="236.5" r="1.1"/><circle cx="596.2" cy="195.0" r="1.5"/><circle cx="596.2" cy="196.7" r="0.9"/><circle cx="597.2" cy="245.9" r="1.1"/><circle cx="597.6" cy="249.1" r="0.9"/><circle cx="596.0" cy="212.3" r="0.9"/><circle cx="597.7" cy="250.9" r="0.9"/><circle cx="596.5" cy="192.9" r="1.3"/><circle cx="596.8" cy="250.1" r="1.1"/><circle cx="596.9" cy="203.6" r="1.5"/><circle cx="596.1" cy="242.1" r="1.5"/><circle cx="596.3" cy="190.8" r="1.3"/><circle cx="596.5" cy="229.6" r="1.3"/><circle cx="597.5" cy="226.2" r="1.3"/><circle cx="597.5" cy="206.5" r="1.1"/><circle cx="598.7" cy="252.0" r="0.9"/><circle cx="598.5" cy="231.9" r="1.3"/><circle cx="599.5" cy="240.0" r="1.1"/><circle cx="598.5" cy="196.0" r="1.1"/><circle cx="599.8" cy="220.1" r="1.1"/><circle cx="598.7" cy="250.6" r="1.1"/><circle cx="599.2" cy="250.8" r="1.1"/><circle cx="599.2" cy="210.7" r="1.5"/><circle cx="599.2" cy="208.1" r="1.5"/><circle cx="599.7" cy="236.7" r="1.1"/><circle cx="599.3" cy="205.4" r="0.9"/><circle cx="598.9" cy="244.9" r="1.3"/><circle cx="599.0" cy="229.2" r="0.9"/><circle cx="599.4" cy="226.0" r="1.1"/><circle cx="598.6" cy="227.2" r="1.3"/><circle cx="599.8" cy="251.5" r="1.3"/><circle cx="598.0" cy="215.5" r="1.5"/><circle cx="598.9" cy="252.2" r="0.9"/><circle cx="599.4" cy="234.2" r="1.1"/><circle cx="598.0" cy="232.8" r="1.1"/><circle cx="599.0" cy="200.7" r="1.5"/><circle cx="598.9" cy="198.7" r="1.5"/><circle cx="601.1" cy="207.4" r="1.25"/><circle cx="600.2" cy="250.9" r="1.25"/><circle cx="600.6" cy="207.0" r="1.25"/><circle cx="601.5" cy="203.0" r="1.25"/><circle cx="600.6" cy="239.7" r="1.25"/><circle cx="601.0" cy="248.3" r="1.25"/><circle cx="601.1" cy="212.7" r="1.25"/><circle cx="600.3" cy="222.6" r="1.25"/><circle cx="601.0" cy="211.6" r="1.25"/><circle cx="600.3" cy="218.2" r="1.25"/><circle cx="600.2" cy="210.1" r="1.25"/><circle cx="601.5" cy="245.6" r="1.25"/><circle cx="600.5" cy="240.0" r="1.25"/><circle cx="602.0" cy="221.4" r="1.25"/><circle cx="601.7" cy="233.7" r="1.25"/><circle cx="600.7" cy="245.3" r="1.25"/><circle cx="600.5" cy="246.2" r="1.25"/><circle cx="601.1" cy="192.4" r="1.25"/><circle cx="601.0" cy="237.4" r="1.25"/><circle cx="601.5" cy="215.1" r="1.25"/><circle cx="601.2" cy="208.9" r="1.25"/><circle cx="600.1" cy="199.3" r="1.25"/><circle cx="602.4" cy="226.8" r="1.25"/><circle cx="602.4" cy="208.4" r="1.25"/><circle cx="603.3" cy="219.1" r="1.25"/><circle cx="603.1" cy="202.2" r="1.25"/><circle cx="603.8" cy="194.0" r="1.25"/><circle cx="603.6" cy="254.0" r="1.25"/><circle cx="603.7" cy="213.6" r="1.25"/><circle cx="602.6" cy="241.5" r="1.25"/><circle cx="603.2" cy="254.8" r="1.25"/><circle cx="603.6" cy="189.0" r="1.25"/><circle cx="603.1" cy="217.3" r="1.25"/><circle cx="602.4" cy="255.1" r="1.25"/><circle cx="603.4" cy="211.7" r="1.25"/><circle cx="603.0" cy="228.3" r="1.25"/><circle cx="603.8" cy="204.7" r="1.25"/><circle cx="602.7" cy="221.9" r="1.25"/><circle cx="602.9" cy="202.8" r="1.25"/><circle cx="602.5" cy="212.3" r="1.25"/><circle cx="603.8" cy="220.1" r="1.25"/><circle cx="603.3" cy="231.4" r="1.25"/><circle cx="603.9" cy="200.6" r="1.25"/><circle cx="605.4" cy="236.5" r="1.25"/><circle cx="604.7" cy="217.9" r="1.25"/><circle cx="606.0" cy="222.2" r="1.25"/><circle cx="606.0" cy="229.7" r="1.25"/><circle cx="605.2" cy="214.4" r="1.25"/><circle cx="606.0" cy="215.2" r="1.25"/><circle cx="604.8" cy="198.2" r="1.25"/><circle cx="605.8" cy="218.0" r="1.25"/><circle cx="604.5" cy="198.7" r="1.25"/><circle cx="604.4" cy="212.6" r="1.25"/><circle cx="604.2" cy="224.2" r="1.25"/><circle cx="605.7" cy="250.1" r="1.25"/><circle cx="605.9" cy="242.0" r="1.25"/><circle cx="605.9" cy="195.6" r="1.25"/><circle cx="604.9" cy="253.8" r="1.25"/><circle cx="604.7" cy="234.9" r="1.25"/><circle cx="604.8" cy="220.6" r="1.25"/><circle cx="605.6" cy="230.3" r="1.25"/><circle cx="605.5" cy="204.7" r="1.25"/><circle cx="604.2" cy="190.7" r="1.25"/><circle cx="607.0" cy="212.9" r="1.25"/><circle cx="607.4" cy="216.6" r="1.25"/><circle cx="606.9" cy="203.5" r="1.25"/><circle cx="606.3" cy="239.8" r="1.25"/><circle cx="607.0" cy="204.0" r="1.25"/><circle cx="606.1" cy="230.2" r="1.25"/><circle cx="606.1" cy="210.8" r="1.25"/><circle cx="606.8" cy="195.0" r="1.25"/><circle cx="606.0" cy="252.1" r="1.25"/><circle cx="606.5" cy="248.6" r="1.25"/><circle cx="606.1" cy="204.6" r="1.25"/><circle cx="607.0" cy="201.5" r="1.25"/><circle cx="607.3" cy="205.3" r="1.25"/><circle cx="607.5" cy="256.2" r="1.25"/><circle cx="607.7" cy="195.6" r="1.25"/><circle cx="606.1" cy="190.1" r="1.25"/><circle cx="607.8" cy="242.7" r="1.25"/><circle cx="607.2" cy="210.6" r="1.25"/><circle cx="606.9" cy="247.4" r="1.25"/><circle cx="608.5" cy="237.6" r="1.25"/><circle cx="608.4" cy="239.9" r="1.25"/><circle cx="608.9" cy="224.5" r="1.25"/><circle cx="608.0" cy="244.3" r="1.25"/><circle cx="609.7" cy="193.4" r="1.25"/><circle cx="608.4" cy="231.1" r="1.25"/><circle cx="608.5" cy="188.2" r="1.25"/><circle cx="608.7" cy="251.7" r="1.25"/><circle cx="609.5" cy="234.9" r="1.25"/><circle cx="608.5" cy="188.4" r="1.25"/><circle cx="610.0" cy="206.0" r="1.25"/><circle cx="608.8" cy="241.4" r="1.25"/><circle cx="608.7" cy="216.0" r="1.25"/><circle cx="608.1" cy="246.0" r="1.25"/><circle cx="609.7" cy="202.9" r="1.25"/><circle cx="608.7" cy="242.7" r="1.25"/><circle cx="608.6" cy="245.4" r="1.25"/><circle cx="608.9" cy="228.3" r="1.25"/><circle cx="610.0" cy="209.8" r="1.25"/><circle cx="611.0" cy="237.6" r="1.25"/><circle cx="611.1" cy="224.0" r="1.25"/><circle cx="610.7" cy="237.6" r="1.25"/><circle cx="611.0" cy="229.9" r="1.25"/><circle cx="611.5" cy="217.5" r="1.25"/><circle cx="611.2" cy="192.8" r="1.25"/><circle cx="610.7" cy="227.7" r="1.25"/><circle cx="611.8" cy="215.2" r="1.25"/><circle cx="611.7" cy="240.1" r="1.25"/><circle cx="610.3" cy="226.6" r="1.25"/><circle cx="610.6" cy="238.6" r="1.25"/><circle cx="611.5" cy="222.2" r="1.25"/><circle cx="610.3" cy="225.9" r="1.25"/><circle cx="610.9" cy="219.1" r="1.25"/><circle cx="610.0" cy="222.8" r="1.25"/><circle cx="611.6" cy="220.1" r="1.25"/><circle cx="613.1" cy="200.2" r="1.25"/><circle cx="613.0" cy="202.9" r="1.25"/><circle cx="613.5" cy="207.4" r="1.25"/><circle cx="613.6" cy="222.2" r="1.25"/><circle cx="612.8" cy="232.3" r="1.25"/><circle cx="613.2" cy="221.1" r="1.25"/><circle cx="612.9" cy="246.1" r="1.25"/><circle cx="612.7" cy="201.2" r="1.25"/><circle cx="612.2" cy="248.5" r="1.25"/><circle cx="613.8" cy="251.5" r="1.25"/><circle cx="613.1" cy="228.7" r="1.25"/><circle cx="612.1" cy="207.4" r="1.25"/><circle cx="613.3" cy="197.7" r="1.25"/><circle cx="612.9" cy="212.1" r="1.25"/><circle cx="613.8" cy="199.2" r="1.25"/><circle cx="613.8" cy="187.4" r="1.25"/><circle cx="612.3" cy="220.3" r="1.25"/><circle cx="614.1" cy="228.0" r="1.25"/><circle cx="615.8" cy="188.1" r="1.25"/><circle cx="615.1" cy="250.8" r="1.25"/><circle cx="615.2" cy="215.9" r="1.25"/><circle cx="615.4" cy="223.8" r="1.25"/><circle cx="614.6" cy="201.6" r="1.25"/><circle cx="614.5" cy="203.4" r="1.25"/><circle cx="615.6" cy="217.5" r="1.25"/><circle cx="614.6" cy="245.0" r="1.25"/><circle cx="615.3" cy="225.4" r="1.25"/><circle cx="615.6" cy="192.0" r="1.25"/><circle cx="616.0" cy="192.1" r="1.25"/><circle cx="615.4" cy="243.9" r="1.25"/><circle cx="615.3" cy="197.8" r="1.25"/><circle cx="615.9" cy="211.6" r="1.25"/><circle cx="617.0" cy="231.4" r="1.25"/><circle cx="617.9" cy="251.9" r="1.25"/><circle cx="617.8" cy="241.3" r="1.25"/><circle cx="616.5" cy="210.5" r="1.25"/><circle cx="617.5" cy="234.6" r="1.25"/><circle cx="617.9" cy="219.2" r="1.25"/><circle cx="617.5" cy="258.0" r="1.25"/><circle cx="617.2" cy="234.1" r="1.25"/><circle cx="617.2" cy="221.2" r="1.25"/><circle cx="616.8" cy="191.2" r="1.25"/><circle cx="617.1" cy="254.9" r="1.25"/><circle cx="617.0" cy="240.8" r="1.25"/><circle cx="616.1" cy="249.5" r="1.25"/><circle cx="616.7" cy="222.3" r="1.25"/><circle cx="618.7" cy="202.8" r="1.25"/><circle cx="619.7" cy="224.0" r="1.25"/><circle cx="618.3" cy="230.0" r="1.25"/><circle cx="618.5" cy="228.7" r="1.25"/><circle cx="618.5" cy="189.1" r="1.25"/><circle cx="619.1" cy="216.7" r="1.25"/><circle cx="619.5" cy="199.9" r="1.25"/><circle cx="618.8" cy="233.0" r="1.25"/><circle cx="618.9" cy="237.7" r="1.25"/><circle cx="619.6" cy="196.2" r="1.25"/><circle cx="618.7" cy="210.0" r="1.25"/><circle cx="619.4" cy="258.9" r="1.25"/><circle cx="621.4" cy="200.0" r="1.25"/><circle cx="620.9" cy="215.4" r="1.25"/><circle cx="620.2" cy="193.6" r="1.25"/><circle cx="620.6" cy="212.9" r="1.25"/><circle cx="620.5" cy="208.1" r="1.25"/><circle cx="620.5" cy="197.2" r="1.25"/><circle cx="621.3" cy="207.1" r="1.25"/><circle cx="621.6" cy="205.1" r="1.25"/><circle cx="620.4" cy="254.3" r="1.25"/><circle cx="620.4" cy="193.3" r="1.25"/><circle cx="621.0" cy="205.6" r="1.25"/><circle cx="622.9" cy="197.7" r="1.25"/><circle cx="622.9" cy="187.1" r="1.25"/><circle cx="623.1" cy="215.2" r="1.25"/><circle cx="622.7" cy="258.1" r="1.25"/><circle cx="623.0" cy="244.9" r="1.25"/><circle cx="622.0" cy="239.7" r="1.25"/><circle cx="622.1" cy="191.1" r="1.25"/><circle cx="623.9" cy="209.1" r="1.25"/><circle cx="623.4" cy="196.8" r="1.25"/><circle cx="623.2" cy="241.3" r="1.25"/><circle cx="625.1" cy="249.5" r="1.25"/><circle cx="624.7" cy="209.3" r="1.25"/><circle cx="624.1" cy="241.1" r="1.25"/><circle cx="625.3" cy="254.0" r="1.25"/><circle cx="625.6" cy="232.8" r="1.25"/><circle cx="625.6" cy="247.2" r="1.25"/><circle cx="625.4" cy="249.0" r="1.25"/><circle cx="625.2" cy="232.4" r="1.25"/><circle cx="624.8" cy="202.4" r="1.25"/><circle cx="627.4" cy="212.8" r="1.25"/><circle cx="627.4" cy="242.3" r="1.25"/><circle cx="627.8" cy="236.0" r="1.25"/><circle cx="627.8" cy="221.5" r="1.25"/><circle cx="627.1" cy="236.2" r="1.25"/><circle cx="626.3" cy="217.8" r="1.25"/><circle cx="627.0" cy="237.2" r="1.25"/><circle cx="626.6" cy="205.9" r="1.25"/><circle cx="628.1" cy="198.7" r="1.25"/><circle cx="629.9" cy="234.7" r="1.25"/><circle cx="629.1" cy="251.7" r="1.25"/><circle cx="629.4" cy="219.2" r="1.25"/><circle cx="629.7" cy="204.2" r="1.25"/><circle cx="628.9" cy="194.3" r="1.25"/><circle cx="630.3" cy="191.5" r="1.25"/><circle cx="631.9" cy="219.2" r="1.25"/><circle cx="632.0" cy="225.2" r="1.25"/><circle cx="630.0" cy="228.1" r="1.25"/><circle cx="631.6" cy="214.0" r="1.25"/><circle cx="632.5" cy="207.9" r="1.25"/><circle cx="633.5" cy="209.8" r="1.25"/><circle cx="632.9" cy="211.9" r="1.25"/><circle cx="633.4" cy="213.5" r="1.25"/><circle cx="633.6" cy="207.0" r="1.25"/><circle cx="634.1" cy="246.9" r="1.25"/><circle cx="635.8" cy="228.8" r="1.25"/><circle cx="635.6" cy="232.8" r="1.25"/><circle cx="634.2" cy="254.9" r="1.25"/><circle cx="634.9" cy="236.7" r="1.25"/><circle cx="637.0" cy="200.9" r="1.25"/><circle cx="637.7" cy="239.1" r="1.25"/><circle cx="637.5" cy="232.6" r="1.25"/><circle cx="638.0" cy="260.6" r="1.25"/><circle cx="637.5" cy="208.8" r="1.25"/><circle cx="639.0" cy="242.8" r="1.25"/><circle cx="638.8" cy="243.4" r="1.25"/><circle cx="638.9" cy="238.1" r="1.25"/><circle cx="638.3" cy="255.3" r="1.25"/><circle cx="639.4" cy="193.9" r="1.25"/><circle cx="641.2" cy="218.9" r="1.25"/><circle cx="641.8" cy="184.9" r="1.25"/><circle cx="641.6" cy="246.1" r="1.25"/><circle cx="640.6" cy="185.2" r="1.25"/><circle cx="641.8" cy="207.3" r="1.25"/><circle cx="641.8" cy="222.4" r="1.25"/><circle cx="643.7" cy="240.0" r="1.25"/><circle cx="642.8" cy="259.3" r="1.25"/><circle cx="642.9" cy="189.8" r="1.25"/><circle cx="643.7" cy="195.1" r="1.25"/><circle cx="642.4" cy="218.9" r="1.25"/><circle cx="645.7" cy="207.0" r="1.25"/><circle cx="645.8" cy="185.3" r="1.25"/><circle cx="644.4" cy="241.9" r="1.25"/><circle cx="645.3" cy="258.5" r="1.25"/><circle cx="644.3" cy="190.4" r="1.25"/><circle cx="647.9" cy="239.4" r="1.25"/><circle cx="647.6" cy="261.4" r="1.25"/><circle cx="646.6" cy="187.2" r="1.25"/><circle cx="647.4" cy="184.7" r="1.25"/><circle cx="646.4" cy="205.2" r="1.25"/><circle cx="649.4" cy="195.0" r="1.25"/><circle cx="649.5" cy="264.4" r="1.25"/><circle cx="649.5" cy="228.0" r="1.25"/><circle cx="649.3" cy="212.3" r="1.25"/><circle cx="648.2" cy="238.5" r="1.25"/><circle cx="649.4" cy="201.6" r="1.25"/><circle cx="651.7" cy="212.4" r="1.25"/><circle cx="651.6" cy="212.9" r="1.25"/><circle cx="651.0" cy="251.3" r="1.25"/><circle cx="651.9" cy="263.9" r="1.25"/><circle cx="651.7" cy="243.2" r="1.25"/><circle cx="652.4" cy="217.0" r="1.25"/><circle cx="652.3" cy="218.6" r="1.25"/><circle cx="652.2" cy="201.1" r="1.25"/><circle cx="652.2" cy="250.0" r="1.25"/><circle cx="653.2" cy="244.2" r="1.25"/><circle cx="655.7" cy="217.7" r="1.25"/><circle cx="654.9" cy="178.7" r="1.25"/><circle cx="654.8" cy="194.0" r="1.25"/><circle cx="656.0" cy="207.7" r="1.25"/><circle cx="654.9" cy="190.5" r="1.25"/><circle cx="657.0" cy="255.4" r="1.25"/><circle cx="657.5" cy="204.2" r="1.25"/><circle cx="656.9" cy="260.5" r="1.25"/><circle cx="657.3" cy="261.9" r="1.25"/><circle cx="657.1" cy="197.3" r="1.25"/><circle cx="659.4" cy="263.5" r="1.25"/><circle cx="659.7" cy="264.7" r="1.25"/><circle cx="659.8" cy="203.3" r="1.25"/><circle cx="658.2" cy="262.6" r="1.25"/><circle cx="659.9" cy="237.4" r="1.25"/><circle cx="660.3" cy="253.2" r="1.25"/><circle cx="661.3" cy="263.8" r="1.25"/><circle cx="660.0" cy="220.2" r="1.25"/><circle cx="661.7" cy="234.2" r="1.25"/><circle cx="660.7" cy="216.5" r="1.25"/><circle cx="663.3" cy="232.7" r="1.25"/><circle cx="663.1" cy="267.2" r="1.25"/><circle cx="663.0" cy="216.7" r="1.25"/><circle cx="662.2" cy="188.2" r="1.25"/><circle cx="663.1" cy="228.7" r="1.25"/><circle cx="665.0" cy="267.7" r="1.25"/><circle cx="666.0" cy="193.8" r="1.25"/><circle cx="664.9" cy="210.7" r="1.25"/><circle cx="666.0" cy="262.9" r="1.25"/><circle cx="665.0" cy="210.8" r="1.25"/><circle cx="667.2" cy="246.9" r="1.25"/><circle cx="666.6" cy="205.5" r="1.25"/><circle cx="666.0" cy="208.5" r="1.25"/><circle cx="666.3" cy="266.2" r="1.25"/><circle cx="667.8" cy="238.5" r="1.25"/><circle cx="669.5" cy="225.3" r="1.25"/><circle cx="669.7" cy="221.6" r="1.25"/><circle cx="668.7" cy="268.4" r="1.25"/><circle cx="668.5" cy="211.1" r="1.25"/><circle cx="668.6" cy="229.5" r="1.25"/><circle cx="670.6" cy="227.9" r="1.25"/><circle cx="670.4" cy="255.2" r="1.25"/><circle cx="671.8" cy="203.3" r="1.25"/><circle cx="670.1" cy="202.1" r="1.25"/><circle cx="671.9" cy="268.7" r="1.25"/><circle cx="673.2" cy="234.7" r="1.25"/><circle cx="673.5" cy="219.1" r="1.25"/><circle cx="672.3" cy="234.8" r="1.25"/><circle cx="673.5" cy="208.8" r="1.25"/><circle cx="672.6" cy="186.5" r="1.25"/><circle cx="672.1" cy="195.3" r="1.25"/><circle cx="675.7" cy="231.8" r="1.25"/><circle cx="675.2" cy="212.2" r="1.25"/><circle cx="674.8" cy="243.7" r="1.25"/><circle cx="675.2" cy="212.9" r="1.25"/><circle cx="674.2" cy="181.4" r="1.25"/><circle cx="676.8" cy="197.0" r="1.25"/><circle cx="677.2" cy="195.1" r="1.25"/><circle cx="676.3" cy="250.3" r="1.25"/><circle cx="677.1" cy="265.2" r="1.25"/><circle cx="676.0" cy="220.5" r="1.25"/><circle cx="678.2" cy="234.8" r="1.25"/><circle cx="678.1" cy="231.1" r="1.25"/><circle cx="678.9" cy="211.5" r="1.25"/><circle cx="678.3" cy="245.3" r="1.25"/><circle cx="678.7" cy="204.6" r="1.25"/><circle cx="681.4" cy="230.9" r="1.25"/><circle cx="681.0" cy="249.6" r="1.25"/><circle cx="680.8" cy="262.7" r="1.25"/><circle cx="681.0" cy="232.0" r="1.25"/><circle cx="680.3" cy="212.7" r="1.25"/><circle cx="682.1" cy="236.8" r="1.25"/><circle cx="682.9" cy="242.0" r="1.25"/><circle cx="683.9" cy="236.1" r="1.25"/><circle cx="682.4" cy="233.6" r="1.25"/><circle cx="683.0" cy="263.8" r="1.25"/><circle cx="685.3" cy="230.0" r="1.25"/><circle cx="684.0" cy="191.9" r="1.25"/><circle cx="685.2" cy="226.8" r="1.25"/><circle cx="684.3" cy="202.8" r="1.25"/><circle cx="685.4" cy="269.8" r="1.25"/><circle cx="687.4" cy="228.8" r="1.25"/><circle cx="687.0" cy="199.2" r="1.25"/><circle cx="687.9" cy="212.6" r="1.25"/><circle cx="687.0" cy="198.0" r="1.25"/><circle cx="686.6" cy="219.3" r="1.25"/><circle cx="688.3" cy="200.3" r="1.25"/><circle cx="688.9" cy="223.0" r="1.25"/><circle cx="689.2" cy="214.9" r="1.25"/><circle cx="688.9" cy="190.4" r="1.25"/><circle cx="689.5" cy="256.7" r="1.25"/><circle cx="690.0" cy="233.8" r="1.25"/><circle cx="690.6" cy="246.4" r="1.25"/><circle cx="690.9" cy="192.1" r="1.25"/><circle cx="692.0" cy="218.0" r="1.25"/><circle cx="691.8" cy="206.4" r="1.25"/><circle cx="692.3" cy="184.6" r="1.25"/><circle cx="693.6" cy="254.8" r="1.25"/><circle cx="692.9" cy="201.4" r="1.25"/><circle cx="692.1" cy="220.4" r="1.25"/><circle cx="693.6" cy="175.7" r="1.25"/><circle cx="694.2" cy="209.5" r="1.25"/><circle cx="694.9" cy="172.2" r="1.25"/><circle cx="695.0" cy="259.8" r="1.25"/><circle cx="695.6" cy="266.7" r="1.25"/><circle cx="694.9" cy="208.9" r="1.25"/><circle cx="696.5" cy="177.2" r="1.25"/><circle cx="697.2" cy="193.8" r="1.25"/><circle cx="696.7" cy="222.3" r="1.25"/><circle cx="696.6" cy="189.2" r="1.25"/><circle cx="697.6" cy="222.5" r="1.25"/><circle cx="698.7" cy="267.8" r="1.25"/><circle cx="698.8" cy="204.8" r="1.25"/><circle cx="699.1" cy="216.8" r="1.25"/><circle cx="699.7" cy="187.3" r="1.25"/><circle cx="699.3" cy="197.8" r="1.25"/><circle cx="701.8" cy="197.4" r="1.25"/><circle cx="701.7" cy="219.8" r="1.25"/><circle cx="701.9" cy="267.1" r="1.25"/><circle cx="702.1" cy="209.7" r="1.25"/><circle cx="703.2" cy="252.2" r="1.25"/><circle cx="703.2" cy="264.9" r="1.25"/><circle cx="704.4" cy="262.8" r="1.25"/><circle cx="705.3" cy="236.1" r="1.25"/><circle cx="704.1" cy="175.5" r="1.25"/><circle cx="706.1" cy="221.3" r="1.25"/><circle cx="707.0" cy="201.8" r="1.25"/><circle cx="706.3" cy="187.7" r="1.25"/><circle cx="709.7" cy="201.7" r="1.25"/><circle cx="708.6" cy="224.7" r="1.25"/><circle cx="709.5" cy="201.2" r="1.25"/><circle cx="710.6" cy="242.3" r="1.25"/><circle cx="711.2" cy="208.6" r="1.25"/><circle cx="710.1" cy="210.4" r="1.25"/><circle cx="712.4" cy="262.9" r="1.25"/><circle cx="712.1" cy="197.9" r="1.25"/><circle cx="712.2" cy="240.3" r="1.25"/><circle cx="715.5" cy="226.3" r="1.25"/><circle cx="715.2" cy="264.4" r="1.25"/><circle cx="714.3" cy="267.9" r="1.25"/><circle cx="715.0" cy="223.6" r="1.25"/><circle cx="717.9" cy="262.0" r="1.25"/><circle cx="717.1" cy="277.6" r="1.25"/><circle cx="716.1" cy="193.8" r="1.25"/><circle cx="719.1" cy="233.8" r="1.25"/><circle cx="718.2" cy="202.7" r="1.25"/><circle cx="719.4" cy="264.9" r="1.25"/><circle cx="720.4" cy="270.6" r="1.25"/><circle cx="721.1" cy="232.3" r="1.25"/><circle cx="720.0" cy="174.1" r="1.25"/><circle cx="721.6" cy="234.4" r="1.25"/><circle cx="723.0" cy="245.2" r="1.25"/><circle cx="722.4" cy="251.2" r="1.25"/><circle cx="723.7" cy="261.4" r="1.25"/><circle cx="725.4" cy="191.8" r="1.25"/><circle cx="724.4" cy="278.7" r="1.25"/><circle cx="725.9" cy="167.5" r="1.25"/><circle cx="725.7" cy="239.3" r="1.25"/><circle cx="727.2" cy="178.6" r="1.25"/><circle cx="726.5" cy="219.6" r="1.25"/><circle cx="726.2" cy="245.6" r="1.25"/><circle cx="730.0" cy="211.5" r="1.25"/><circle cx="728.2" cy="225.8" r="1.25"/><circle cx="728.1" cy="268.7" r="1.25"/><circle cx="730.9" cy="263.5" r="1.25"/><circle cx="730.8" cy="252.7" r="1.25"/><circle cx="731.0" cy="192.5" r="1.25"/><circle cx="732.1" cy="167.7" r="1.25"/><circle cx="732.7" cy="220.6" r="1.25"/><circle cx="733.3" cy="236.2" r="1.25"/><circle cx="734.4" cy="264.8" r="1.25"/><circle cx="735.7" cy="216.4" r="1.25"/><circle cx="734.5" cy="248.6" r="1.25"/><circle cx="734.4" cy="176.7" r="1.25"/><circle cx="736.1" cy="204.2" r="1.25"/><circle cx="736.8" cy="189.3" r="1.25"/><circle cx="737.7" cy="243.8" r="1.25"/><circle cx="737.5" cy="181.8" r="1.25"/><circle cx="738.0" cy="167.4" r="1.25"/><circle cx="738.0" cy="230.6" r="1.25"/><circle cx="738.8" cy="184.3" r="1.25"/><circle cx="740.2" cy="169.6" r="1.25"/><circle cx="741.9" cy="184.7" r="1.25"/><circle cx="740.7" cy="201.2" r="1.25"/><circle cx="742.0" cy="231.0" r="1.25"/><circle cx="742.8" cy="169.6" r="1.25"/><circle cx="743.2" cy="202.8" r="1.25"/><circle cx="744.6" cy="252.9" r="1.25"/><circle cx="744.2" cy="177.2" r="1.25"/><circle cx="744.6" cy="255.1" r="1.25"/><circle cx="744.1" cy="278.5" r="1.25"/><circle cx="747.5" cy="226.0" r="1.25"/><circle cx="746.8" cy="175.1" r="1.25"/><circle cx="746.6" cy="183.4" r="1.25"/><circle cx="749.0" cy="166.1" r="1.25"/><circle cx="748.0" cy="172.5" r="1.25"/><circle cx="749.8" cy="241.8" r="1.25"/><circle cx="751.4" cy="197.8" r="1.25"/><circle cx="751.3" cy="283.4" r="1.25"/><circle cx="751.4" cy="199.7" r="1.25"/><circle cx="753.0" cy="171.5" r="1.25"/><circle cx="753.8" cy="248.2" r="1.25"/><circle cx="752.0" cy="236.5" r="1.25"/><circle cx="755.8" cy="251.0" r="1.25"/><circle cx="755.5" cy="258.3" r="1.25"/><circle cx="755.3" cy="250.4" r="1.25"/><circle cx="754.9" cy="259.8" r="1.25"/><circle cx="757.9" cy="255.7" r="1.25"/><circle cx="757.7" cy="271.8" r="1.25"/><circle cx="756.8" cy="280.3" r="1.25"/><circle cx="757.2" cy="222.8" r="1.25"/><circle cx="758.7" cy="260.3" r="1.25"/><circle cx="758.9" cy="269.1" r="1.25"/><circle cx="759.4" cy="226.3" r="1.25"/><circle cx="760.5" cy="285.2" r="1.25"/><circle cx="760.7" cy="233.5" r="1.25"/><circle cx="760.4" cy="220.3" r="1.25"/><circle cx="763.8" cy="222.1" r="1.25"/><circle cx="762.9" cy="277.9" r="1.25"/><circle cx="763.2" cy="246.4" r="1.25"/><circle cx="764.7" cy="187.4" r="1.25"/><circle cx="765.7" cy="285.1" r="1.25"/><circle cx="764.3" cy="198.3" r="1.25"/><circle cx="764.3" cy="169.4" r="1.25"/><circle cx="766.5" cy="257.5" r="1.25"/><circle cx="767.1" cy="281.3" r="1.25"/><circle cx="767.6" cy="173.5" r="1.25"/><circle cx="766.9" cy="206.9" r="1.25"/><circle cx="768.6" cy="169.5" r="1.25"/><circle cx="769.0" cy="175.6" r="1.25"/><circle cx="768.1" cy="241.0" r="1.25"/><circle cx="771.2" cy="232.0" r="1.25"/><circle cx="770.4" cy="283.0" r="1.25"/><circle cx="770.6" cy="209.2" r="1.25"/><circle cx="771.9" cy="251.6" r="1.25"/><circle cx="773.5" cy="276.6" r="1.25"/><circle cx="772.3" cy="169.3" r="1.25"/><circle cx="773.8" cy="162.9" r="1.25"/><circle cx="772.4" cy="203.5" r="1.25"/><circle cx="774.3" cy="277.0" r="1.25"/><circle cx="774.9" cy="166.9" r="1.25"/><circle cx="774.7" cy="262.0" r="1.25"/><circle cx="774.4" cy="189.0" r="1.25"/><circle cx="777.2" cy="250.3" r="1.25"/><circle cx="776.9" cy="261.3" r="1.25"/><circle cx="777.6" cy="167.3" r="1.25"/><circle cx="777.4" cy="223.1" r="1.25"/><circle cx="778.6" cy="162.8" r="1.25"/><circle cx="779.8" cy="245.8" r="1.25"/><circle cx="778.5" cy="252.0" r="1.25"/><circle cx="780.5" cy="177.3" r="1.25"/><circle cx="780.8" cy="255.6" r="1.25"/><circle cx="781.3" cy="207.3" r="1.25"/><circle cx="782.0" cy="277.1" r="1.25"/><circle cx="783.1" cy="288.1" r="1.25"/><circle cx="784.0" cy="167.8" r="1.25"/><circle cx="783.8" cy="248.0" r="1.25"/><circle cx="782.9" cy="194.0" r="1.25"/><circle cx="785.5" cy="249.0" r="1.25"/><circle cx="785.2" cy="164.8" r="1.25"/><circle cx="784.8" cy="234.9" r="1.25"/><circle cx="784.7" cy="271.4" r="1.25"/><circle cx="787.9" cy="161.0" r="1.25"/><circle cx="787.2" cy="283.1" r="1.25"/><circle cx="786.7" cy="188.2" r="1.25"/><circle cx="787.3" cy="163.2" r="1.25"/><circle cx="788.3" cy="173.6" r="1.25"/><circle cx="789.6" cy="243.0" r="1.25"/><circle cx="789.4" cy="281.0" r="1.25"/><circle cx="788.3" cy="274.3" r="1.25"/><circle cx="790.7" cy="288.4" r="1.25"/><circle cx="790.0" cy="250.2" r="1.25"/><circle cx="790.1" cy="224.7" r="1.25"/><circle cx="791.9" cy="229.9" r="1.25"/><circle cx="793.6" cy="167.4" r="1.25"/><circle cx="793.1" cy="203.3" r="1.25"/><circle cx="792.5" cy="270.6" r="1.25"/><circle cx="793.8" cy="272.4" r="1.25"/><circle cx="795.0" cy="277.9" r="1.25"/><circle cx="795.0" cy="292.3" r="1.25"/><circle cx="795.2" cy="177.1" r="1.25"/><circle cx="794.8" cy="260.2" r="1.25"/><circle cx="797.6" cy="266.2" r="1.25"/><circle cx="797.7" cy="214.8" r="1.25"/><circle cx="796.1" cy="255.5" r="1.25"/><circle cx="796.2" cy="226.7" r="1.25"/><circle cx="796.1" cy="148.7" r="1.25"/><circle cx="799.3" cy="259.8" r="1.25"/><circle cx="799.1" cy="147.2" r="1.25"/><circle cx="798.5" cy="257.4" r="1.25"/><circle cx="798.9" cy="205.4" r="1.25"/><circle cx="799.6" cy="224.1" r="1.25"/><circle cx="800.2" cy="230.1" r="1.25"/><circle cx="800.7" cy="150.9" r="1.25"/><circle cx="801.4" cy="235.5" r="1.25"/><circle cx="801.3" cy="151.1" r="1.25"/><circle cx="804.0" cy="211.9" r="1.25"/><circle cx="802.1" cy="178.9" r="1.25"/><circle cx="803.3" cy="256.8" r="1.25"/><circle cx="802.6" cy="217.3" r="1.25"/><circle cx="805.8" cy="261.5" r="1.25"/><circle cx="805.9" cy="280.6" r="1.25"/><circle cx="804.9" cy="156.9" r="1.25"/><circle cx="804.2" cy="159.5" r="1.25"/><circle cx="807.3" cy="175.4" r="1.25"/><circle cx="807.3" cy="162.8" r="1.25"/><circle cx="807.7" cy="150.0" r="1.25"/><circle cx="807.4" cy="266.8" r="1.25"/><circle cx="807.7" cy="228.7" r="1.25"/><circle cx="808.8" cy="154.8" r="1.25"/><circle cx="809.1" cy="217.3" r="1.25"/><circle cx="809.6" cy="271.4" r="1.25"/><circle cx="809.4" cy="153.5" r="1.25"/><circle cx="810.7" cy="296.2" r="1.25"/><circle cx="811.9" cy="259.9" r="1.25"/><circle cx="810.5" cy="171.5" r="1.25"/><circle cx="811.6" cy="197.6" r="1.25"/><circle cx="814.0" cy="201.1" r="1.25"/><circle cx="813.9" cy="217.6" r="1.25"/><circle cx="813.9" cy="220.3" r="1.25"/><circle cx="813.3" cy="144.8" r="1.25"/><circle cx="815.1" cy="209.7" r="1.25"/><circle cx="814.2" cy="244.2" r="1.25"/><circle cx="815.6" cy="289.2" r="1.25"/><circle cx="814.2" cy="239.9" r="1.25"/><circle cx="815.2" cy="273.9" r="1.25"/><circle cx="816.6" cy="249.8" r="1.25"/><circle cx="816.1" cy="204.8" r="1.25"/><circle cx="817.3" cy="285.6" r="1.25"/><circle cx="817.1" cy="217.5" r="1.25"/><circle cx="817.6" cy="195.6" r="1.25"/><circle cx="818.1" cy="144.7" r="1.25"/><circle cx="818.3" cy="195.9" r="1.25"/><circle cx="818.9" cy="158.3" r="1.25"/><circle cx="819.2" cy="159.1" r="1.25"/><circle cx="818.4" cy="253.5" r="1.25"/><circle cx="820.8" cy="209.7" r="1.25"/><circle cx="821.3" cy="155.0" r="1.25"/><circle cx="821.2" cy="249.0" r="1.25"/><circle cx="820.5" cy="215.2" r="1.25"/><circle cx="820.6" cy="298.9" r="1.25"/><circle cx="822.1" cy="202.8" r="1.25"/><circle cx="822.9" cy="141.3" r="1.25"/><circle cx="822.4" cy="281.8" r="1.25"/><circle cx="823.2" cy="217.4" r="1.25"/><circle cx="822.9" cy="286.6" r="1.25"/><circle cx="824.8" cy="260.5" r="1.25"/><circle cx="825.1" cy="288.4" r="1.25"/><circle cx="825.7" cy="280.0" r="1.25"/><circle cx="825.7" cy="280.8" r="1.25"/><circle cx="824.4" cy="227.9" r="1.25"/><circle cx="827.8" cy="268.9" r="1.25"/><circle cx="826.1" cy="231.6" r="1.25"/><circle cx="827.9" cy="181.2" r="1.25"/><circle cx="826.6" cy="286.0" r="1.25"/><circle cx="826.5" cy="165.2" r="1.25"/><circle cx="828.9" cy="213.9" r="1.25"/><circle cx="829.0" cy="141.8" r="1.25"/><circle cx="829.5" cy="204.5" r="1.25"/><circle cx="828.7" cy="152.3" r="1.25"/><circle cx="828.7" cy="257.0" r="1.25"/><circle cx="831.8" cy="277.8" r="1.25"/><circle cx="831.9" cy="222.0" r="1.25"/><circle cx="830.5" cy="136.9" r="1.25"/><circle cx="830.4" cy="227.7" r="1.25"/><circle cx="831.7" cy="158.2" r="1.25"/><circle cx="833.1" cy="245.7" r="1.25"/><circle cx="833.3" cy="196.1" r="1.25"/><circle cx="832.3" cy="237.2" r="1.25"/><circle cx="832.9" cy="256.2" r="1.25"/><circle cx="832.8" cy="137.4" r="1.25"/><circle cx="835.1" cy="222.6" r="1.25"/><circle cx="835.1" cy="184.5" r="1.25"/><circle cx="835.0" cy="229.9" r="1.25"/><circle cx="834.3" cy="293.4" r="1.25"/><circle cx="834.9" cy="265.5" r="1.25"/><circle cx="837.1" cy="243.7" r="1.25"/><circle cx="837.3" cy="249.6" r="1.25"/><circle cx="838.0" cy="194.8" r="1.25"/><circle cx="836.8" cy="257.9" r="1.25"/><circle cx="836.1" cy="240.9" r="1.25"/><circle cx="839.9" cy="252.0" r="1.25"/><circle cx="839.8" cy="148.8" r="1.25"/><circle cx="838.7" cy="189.6" r="1.25"/><circle cx="838.4" cy="305.4" r="1.25"/><circle cx="839.8" cy="189.8" r="1.25"/><circle cx="840.7" cy="268.2" r="1.25"/><circle cx="841.5" cy="268.9" r="1.25"/><circle cx="841.7" cy="221.2" r="1.25"/><circle cx="841.1" cy="179.0" r="1.25"/><circle cx="840.8" cy="303.7" r="1.25"/><circle cx="842.8" cy="188.0" r="1.25"/><circle cx="842.5" cy="212.0" r="1.25"/><circle cx="842.1" cy="269.5" r="1.25"/><circle cx="842.2" cy="227.5" r="1.25"/><circle cx="843.5" cy="207.6" r="1.25"/><circle cx="845.1" cy="273.7" r="1.25"/><circle cx="844.3" cy="213.9" r="1.25"/><circle cx="845.5" cy="199.7" r="1.25"/><circle cx="844.1" cy="227.9" r="1.25"/><circle cx="844.3" cy="204.0" r="1.25"/><circle cx="846.2" cy="136.2" r="1.25"/><circle cx="847.2" cy="142.1" r="1.25"/><circle cx="847.5" cy="247.7" r="1.25"/><circle cx="847.0" cy="256.6" r="1.25"/><circle cx="847.4" cy="211.2" r="1.25"/><circle cx="848.2" cy="273.0" r="1.25"/><circle cx="848.5" cy="301.9" r="1.25"/><circle cx="848.4" cy="217.2" r="1.25"/><circle cx="849.9" cy="200.7" r="1.25"/><circle cx="849.1" cy="222.5" r="1.25"/><circle cx="850.5" cy="219.7" r="1.25"/><circle cx="850.1" cy="143.1" r="1.25"/><circle cx="850.2" cy="276.5" r="1.25"/><circle cx="851.2" cy="230.5" r="1.25"/><circle cx="852.0" cy="222.4" r="1.25"/><circle cx="852.7" cy="275.9" r="1.25"/><circle cx="853.1" cy="162.0" r="1.25"/><circle cx="852.9" cy="278.8" r="1.25"/><circle cx="853.3" cy="181.5" r="1.25"/><circle cx="852.1" cy="249.2" r="1.25"/><circle cx="855.4" cy="234.8" r="1.25"/><circle cx="854.1" cy="177.4" r="1.25"/><circle cx="854.5" cy="281.1" r="1.25"/><circle cx="855.3" cy="268.6" r="1.25"/><circle cx="855.7" cy="220.1" r="1.25"/><circle cx="856.4" cy="196.6" r="1.25"/><circle cx="856.4" cy="263.9" r="1.25"/><circle cx="857.7" cy="170.1" r="1.25"/><circle cx="856.0" cy="289.4" r="1.25"/><circle cx="856.1" cy="196.0" r="1.25"/><circle cx="859.8" cy="159.8" r="1.25"/><circle cx="858.2" cy="153.0" r="1.25"/><circle cx="859.3" cy="300.8" r="1.25"/><circle cx="858.8" cy="280.8" r="1.25"/><circle cx="859.8" cy="165.0" r="1.25"/><circle cx="861.2" cy="306.1" r="1.25"/><circle cx="860.1" cy="311.2" r="1.25"/><circle cx="860.1" cy="170.9" r="1.25"/><circle cx="861.9" cy="239.0" r="1.25"/><circle cx="861.0" cy="298.0" r="1.25"/><circle cx="863.9" cy="139.7" r="1.25"/><circle cx="862.5" cy="238.2" r="1.25"/><circle cx="862.9" cy="187.7" r="1.25"/><circle cx="862.8" cy="225.6" r="1.25"/><circle cx="863.7" cy="169.9" r="1.25"/><circle cx="865.5" cy="183.5" r="1.25"/><circle cx="864.3" cy="157.2" r="1.25"/><circle cx="865.4" cy="262.8" r="1.25"/><circle cx="864.7" cy="213.6" r="1.25"/><circle cx="864.0" cy="294.0" r="1.25"/><circle cx="864.5" cy="230.5" r="1.25"/><circle cx="867.9" cy="302.0" r="1.25"/><circle cx="867.8" cy="209.6" r="1.25"/><circle cx="866.2" cy="266.6" r="1.25"/><circle cx="866.4" cy="265.4" r="1.25"/><circle cx="866.7" cy="216.5" r="1.25"/><circle cx="869.8" cy="182.1" r="1.25"/><circle cx="868.2" cy="229.0" r="1.25"/><circle cx="869.5" cy="192.0" r="1.25"/><circle cx="868.8" cy="267.9" r="1.25"/><circle cx="869.9" cy="234.4" r="1.25"/><circle cx="870.9" cy="158.5" r="1.25"/><circle cx="870.9" cy="159.7" r="1.25"/><circle cx="870.7" cy="241.8" r="1.25"/><circle cx="870.1" cy="200.3" r="1.25"/><circle cx="871.9" cy="147.3" r="1.25"/><circle cx="872.7" cy="150.7" r="1.25"/><circle cx="873.7" cy="264.6" r="1.25"/><circle cx="872.6" cy="250.5" r="1.25"/><circle cx="873.1" cy="251.0" r="1.25"/><circle cx="873.0" cy="263.1" r="1.25"/><circle cx="874.9" cy="184.6" r="1.25"/><circle cx="875.7" cy="247.3" r="1.25"/><circle cx="874.5" cy="267.9" r="1.25"/><circle cx="876.0" cy="252.8" r="1.25"/><circle cx="874.4" cy="241.7" r="1.25"/><circle cx="877.7" cy="159.1" r="1.25"/><circle cx="877.5" cy="290.6" r="1.25"/><circle cx="876.4" cy="184.2" r="1.25"/><circle cx="877.4" cy="178.7" r="1.25"/><circle cx="877.5" cy="219.3" r="1.25"/><circle cx="879.5" cy="279.3" r="1.25"/><circle cx="878.7" cy="285.9" r="1.25"/><circle cx="879.0" cy="153.4" r="1.25"/><circle cx="879.6" cy="246.5" r="1.25"/><circle cx="879.3" cy="162.9" r="1.25"/><circle cx="880.0" cy="210.0" r="1.25"/><circle cx="880.2" cy="194.4" r="1.25"/><circle cx="881.7" cy="173.1" r="1.25"/><circle cx="880.9" cy="283.5" r="1.25"/><circle cx="882.7" cy="230.1" r="1.25"/><circle cx="882.1" cy="252.1" r="1.25"/><circle cx="883.6" cy="218.7" r="1.25"/><circle cx="882.0" cy="283.1" r="1.25"/><circle cx="885.5" cy="181.9" r="1.25"/><circle cx="885.4" cy="269.5" r="1.25"/><circle cx="884.8" cy="235.9" r="1.25"/><circle cx="884.6" cy="278.9" r="1.25"/><circle cx="887.5" cy="186.4" r="1.25"/><circle cx="886.1" cy="217.6" r="1.25"/><circle cx="887.1" cy="177.5" r="1.25"/><circle cx="887.6" cy="169.5" r="1.25"/><circle cx="886.5" cy="266.7" r="1.25"/><circle cx="889.0" cy="159.8" r="1.25"/><circle cx="889.1" cy="193.1" r="1.25"/><circle cx="888.4" cy="151.8" r="1.25"/><circle cx="889.1" cy="154.1" r="1.25"/><circle cx="890.1" cy="237.6" r="1.25"/><circle cx="891.9" cy="225.0" r="1.25"/><circle cx="890.2" cy="244.4" r="1.25"/><circle cx="891.1" cy="268.9" r="1.25"/><circle cx="891.2" cy="268.0" r="1.25"/><circle cx="893.5" cy="153.3" r="1.25"/><circle cx="892.0" cy="257.2" r="1.25"/><circle cx="894.0" cy="170.5" r="1.25"/><circle cx="893.9" cy="245.3" r="1.25"/><circle cx="893.5" cy="255.0" r="1.25"/><circle cx="894.3" cy="269.2" r="1.25"/><circle cx="894.8" cy="289.0" r="1.25"/><circle cx="895.9" cy="230.9" r="1.25"/><circle cx="895.4" cy="259.8" r="1.25"/><circle cx="897.8" cy="178.2" r="1.25"/><circle cx="897.6" cy="195.0" r="1.25"/><circle cx="897.0" cy="290.5" r="1.25"/><circle cx="898.0" cy="258.6" r="1.25"/><circle cx="898.1" cy="161.8" r="1.25"/><circle cx="899.2" cy="226.7" r="1.25"/><circle cx="898.4" cy="164.9" r="1.25"/><circle cx="898.3" cy="287.4" r="1.25"/><circle cx="901.4" cy="265.9" r="1.25"/><circle cx="901.6" cy="271.9" r="1.25"/><circle cx="900.7" cy="276.1" r="1.25"/><circle cx="901.2" cy="238.8" r="1.25"/><circle cx="902.4" cy="195.4" r="1.25"/><circle cx="904.0" cy="217.8" r="1.25"/><circle cx="902.9" cy="157.0" r="1.25"/><circle cx="903.2" cy="174.6" r="1.25"/><circle cx="905.1" cy="232.7" r="1.25"/><circle cx="904.5" cy="171.5" r="1.25"/><circle cx="905.6" cy="257.2" r="1.25"/><circle cx="904.6" cy="176.1" r="1.25"/><circle cx="906.9" cy="181.7" r="1.25"/><circle cx="906.3" cy="269.7" r="1.25"/><circle cx="906.8" cy="230.1" r="1.25"/><circle cx="907.5" cy="226.9" r="1.25"/><circle cx="909.6" cy="218.4" r="1.25"/><circle cx="909.7" cy="251.9" r="1.25"/><circle cx="908.8" cy="190.2" r="1.25"/><circle cx="911.2" cy="204.1" r="1.25"/><circle cx="911.6" cy="257.8" r="1.25"/><circle cx="913.3" cy="237.9" r="1.25"/><circle cx="912.9" cy="228.2" r="1.25"/><circle cx="912.1" cy="201.0" r="1.25"/><circle cx="914.7" cy="232.8" r="1.25"/><circle cx="915.4" cy="239.1" r="1.25"/><circle cx="917.3" cy="204.6" r="1.25"/><circle cx="793.9" cy="302.5" r="1.2"/><circle cx="805.7" cy="314.8" r="1.2"/><circle cx="850.5" cy="316.7" r="1.2"/><circle cx="754.0" cy="292.5" r="1.2"/><circle cx="884.1" cy="312.7" r="1.2"/><circle cx="746.1" cy="289.6" r="1.2"/><circle cx="801.4" cy="306.8" r="1.2"/><circle cx="853.5" cy="122.6" r="1.2"/><circle cx="726.8" cy="289.4" r="1.2"/><circle cx="851.8" cy="125.2" r="1.2"/><circle cx="857.9" cy="319.5" r="1.2"/><circle cx="702.2" cy="289.6" r="1.2"/><circle cx="733.7" cy="286.6" r="1.2"/><circle cx="851.0" cy="325.3" r="1.2"/><circle cx="772.0" cy="299.5" r="1.2"/><circle cx="818.8" cy="315.6" r="1.2"/><circle cx="883.5" cy="127.6" r="1.2"/><circle cx="842.7" cy="122.8" r="1.2"/><circle cx="733.0" cy="158.7" r="1.2"/><circle cx="894.6" cy="314.8" r="1.2"/><circle cx="830.7" cy="128.2" r="1.2"/><circle cx="724.7" cy="286.9" r="1.2"/><circle cx="754.8" cy="152.8" r="1.2"/><circle cx="870.1" cy="320.4" r="1.2"/><circle cx="709.3" cy="293.2" r="1.2"/><circle cx="878.2" cy="320.1" r="1.2"/><circle cx="872.9" cy="123.1" r="1.2"/><circle cx="886.3" cy="134.1" r="1.2"/><circle cx="893.1" cy="130.0" r="1.2"/><circle cx="854.8" cy="122.5" r="1.2"/>
</g>
</svg><div class="abs head" style="left:265px;top:373px;color:#111">特征</div><div class="abs head" style="left:695px;top:373px;color:#c0281e">挑战</div><div class="abs head" style="left:1031px;top:373px;color:#34558f">任务</div><div class="box" style="left:87px;width:453px;border:2.6px solid #000"></div><div class="box" style="left:561px;width:345px;border:2.3px solid #c65a57"></div><div class="box" style="left:922px;width:282px;border:2.6px solid #375893"></div><div class="txt" style="left:109px;top:434.5px;color:#111">高温、高压、高速的</div><div class="txt" style="left:109px;top:464px;color:#111">特点使喷雾燃烧过程：</div><div class="txt" style="left:145px;top:496.5px;color:#111">相变过程剧烈</div><div class="txt" style="left:145px;top:528.5px;color:#111">气相作用重要</div><div class="txt" style="left:145px;top:560.5px;color:#111">界面演化极快</div><div class="txt" style="left:359px;top:496.5px;color:#111">多物理场耦合</div><div class="txt" style="left:359px;top:528.5px;color:#111">作用的时空多</div><div class="txt" style="left:359px;top:560.5px;color:#111">尺度复杂过程</div><svg class="abs" style="left:109.2px;top:501.9px" width="19" height="21" viewBox="0 0 19 21"><path d="M1,1 L16.7,10.1 L6.2,10.1 Z" fill="#fff" stroke="#111" stroke-width="0.9" stroke-linejoin="miter"/><path d="M1,19.2 L16.7,10.1 L6.2,10.1 Z" fill="#111" stroke="#111" stroke-width="0.9" stroke-linejoin="miter"/></svg><svg class="abs" style="left:109.2px;top:533.9px" width="19" height="21" viewBox="0 0 19 21"><path d="M1,1 L16.7,10.1 L6.2,10.1 Z" fill="#fff" stroke="#111" stroke-width="0.9" stroke-linejoin="miter"/><path d="M1,19.2 L16.7,10.1 L6.2,10.1 Z" fill="#111" stroke="#111" stroke-width="0.9" stroke-linejoin="miter"/></svg><svg class="abs" style="left:109.2px;top:565.9px" width="19" height="21" viewBox="0 0 19 21"><path d="M1,1 L16.7,10.1 L6.2,10.1 Z" fill="#fff" stroke="#111" stroke-width="0.9" stroke-linejoin="miter"/><path d="M1,19.2 L16.7,10.1 L6.2,10.1 Z" fill="#111" stroke="#111" stroke-width="0.9" stroke-linejoin="miter"/></svg><svg class="abs" style="left:318px;top:496px" width="34" height="88"><path d="M2,3 C10,3 15.6,5 15.6,12 L15.6,37 C15.6,41 18,43.5 30.6,43.9 C18,44.3 15.6,47 15.6,51 L15.6,76 C15.6,83 10,84.6 2,84.6" fill="none" stroke="#111" stroke-width="2.3"/></svg><div class="txt" style="left:608px;top:432.5px;color:#c0281e">难以准确重现液滴经历</div><div class="txt" style="left:608px;top:463px;color:#c0281e">的实际物理参数</div><div class="txt" style="left:608px;top:496px;color:#c0281e">难以同时重现液滴经历</div><div class="txt" style="left:608px;top:526.5px;color:#c0281e">的全部物理参数</div><div class="txt" style="left:608px;top:560.5px;color:#c0281e">难以同时在全部时间/空</div><div class="txt" style="left:608px;top:591px;color:#c0281e">间尺度上捕捉液滴流动</div><div class="txt" style="left:608px;top:622px;color:#c0281e">传热过程</div><svg class="abs" style="left:572.6px;top:437.6px" width="19" height="21" viewBox="0 0 19 21"><path d="M1,1 L16.7,10.1 L6.2,10.1 Z" fill="#fff" stroke="#c0281e" stroke-width="0.9" stroke-linejoin="miter"/><path d="M1,19.2 L16.7,10.1 L6.2,10.1 Z" fill="#c0281e" stroke="#c0281e" stroke-width="0.9" stroke-linejoin="miter"/></svg><svg class="abs" style="left:572.6px;top:501.1px" width="19" height="21" viewBox="0 0 19 21"><path d="M1,1 L16.7,10.1 L6.2,10.1 Z" fill="#fff" stroke="#c0281e" stroke-width="0.9" stroke-linejoin="miter"/><path d="M1,19.2 L16.7,10.1 L6.2,10.1 Z" fill="#c0281e" stroke="#c0281e" stroke-width="0.9" stroke-linejoin="miter"/></svg><svg class="abs" style="left:572.6px;top:565.6px" width="19" height="21" viewBox="0 0 19 21"><path d="M1,1 L16.7,10.1 L6.2,10.1 Z" fill="#fff" stroke="#c0281e" stroke-width="0.9" stroke-linejoin="miter"/><path d="M1,19.2 L16.7,10.1 L6.2,10.1 Z" fill="#c0281e" stroke="#c0281e" stroke-width="0.9" stroke-linejoin="miter"/></svg><div class="txt" style="left:974px;top:432.5px;color:#34558f">进一步开发准确有</div><div class="txt" style="left:974px;top:463px;color:#34558f">效的实验测量与数</div><div class="txt" style="left:974px;top:493.5px;color:#34558f">值模拟技术</div><div class="txt" style="left:974px;top:525.5px;color:#34558f">建立全尺度描述喷</div><div class="txt" style="left:974px;top:556.5px;color:#34558f">雾燃烧过程的完整</div><div class="txt" style="left:974px;top:588px;color:#34558f">理论框架</div><svg class="abs" style="left:939.9px;top:436.9px" width="19" height="21" viewBox="0 0 19 21"><path d="M1,1 L16.7,9.6 L6.2,9.6 Z" fill="#fff" stroke="#34558f" stroke-width="0.9" stroke-linejoin="miter"/><path d="M1,18.2 L16.7,9.6 L6.2,9.6 Z" fill="#34558f" stroke="#34558f" stroke-width="0.9" stroke-linejoin="miter"/></svg><svg class="abs" style="left:939.9px;top:529.9px" width="19" height="21" viewBox="0 0 19 21"><path d="M1,1 L16.7,9.6 L6.2,9.6 Z" fill="#fff" stroke="#34558f" stroke-width="0.9" stroke-linejoin="miter"/><path d="M1,18.2 L16.7,9.6 L6.2,9.6 Z" fill="#34558f" stroke="#34558f" stroke-width="0.9" stroke-linejoin="miter"/></svg><svg class="abs" style="left:220px;top:460px" width="30" height="40" viewBox="220 460 30 40"><path d="M225.6,466 L243,484 L236,484 L238.5,491 L234,493 L231.2,486.5 L225.6,491.5 Z" fill="#e040c0" stroke="#222" stroke-width="0.9" stroke-linejoin="round"/></svg><div class="tool" style="left:-2.3px"></div><div class="tool" style="left:34.7px"></div><div class="tool" style="left:73.0px"></div><div class="tool" style="left:111.0px"></div><div class="tool" style="left:148.7px"></div><div class="tool" style="left:187.4px"></div><svg class="abs" style="left:0;top:670px" width="220" height="30" fill="none" stroke="#d4d4d4" stroke-width="1.2">
<path d="M13,17 L7,22.5 L13,28 Z"/><path d="M47,17 L53,22.5 L47,28 Z"/>
<path d="M80,32 L82,26 L94,14 L96,16 L84,28 Z"/>
<rect x="116" y="14" width="5" height="6"/><rect x="123" y="14" width="6" height="4"/><rect x="116" y="22" width="5" height="6"/><rect x="122" y="20" width="9" height="10"/>
<circle cx="161" cy="20" r="5" stroke-width="1.8"/><path d="M165,24 L170,29" stroke-width="2"/>
<circle cx="196" cy="22" r="1.6"/><circle cx="201" cy="22" r="1.6"/><circle cx="206" cy="22" r="1.6"/>
</svg>
</body></html>
